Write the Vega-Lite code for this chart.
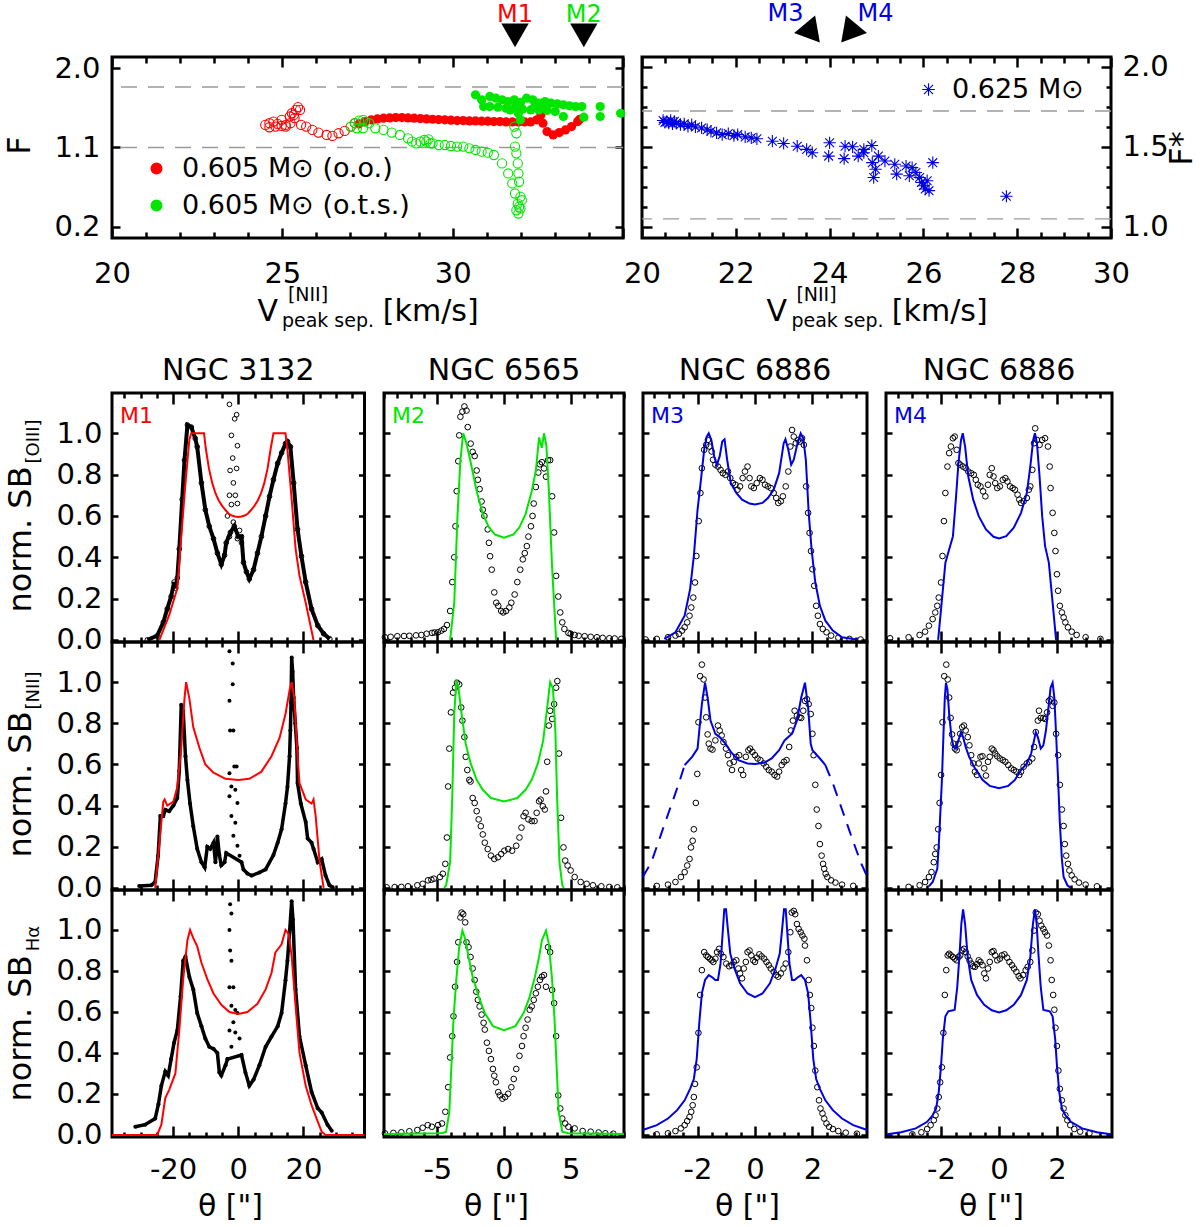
{
  "$schema": "https://vega.github.io/schema/vega-lite/v6.json",
  "autosize": {"type": "none"},
  "padding": {"left": 112, "top": 57, "right": 1088, "bottom": 1170},
  "background": "white",
  "config": {
    "font": "DejaVu Sans",
    "view": {"stroke": "black", "strokeWidth": 3},
    "axis": {"domain": false, "grid": false, "tickColor": "black", "tickWidth": 2.5, "labelColor": "black", "labelFontSize": 29, "labelOverlap": false, "labelFlush": false, "labelBound": false, "titleColor": "black", "titleFontWeight": "normal", "titleFontSize": 32, "tickSize": -6},
    "axisBottom": {"labelPadding": 29.5},
    "axisTop": {"labels": false},
    "axisLeft": {"labelPadding": 16},
    "axisRight": {"labels": false, "labelPadding": 21},
    "title": {"fontSize": 30, "fontWeight": "normal", "color": "black", "baseline": "alphabetic", "offset": 6},
    "legend": {"labelFontSize": 27, "labelColor": "black", "labelLimit": 0, "padding": 0}
  },
  "datasets": {
    "tlo": [
      {"x":24.5,"y":1.356,"s":"oo"},{"x":24.62,"y":1.375,"s":"oo"},{"x":24.74,"y":1.394,"s":"oo"},{"x":24.86,"y":1.367,"s":"oo"},{"x":24.98,"y":1.413,"s":"oo"},{"x":25.1,"y":1.356,"s":"oo"},{"x":25.22,"y":1.451,"s":"oo"},{"x":25.28,"y":1.488,"s":"oo"},{"x":25.34,"y":1.469,"s":"oo"},{"x":25.4,"y":1.526,"s":"oo"},{"x":25.46,"y":1.557,"s":"oo"},{"x":25.52,"y":1.526,"s":"oo"},{"x":25.1,"y":1.337,"s":"oo"},{"x":24.98,"y":1.344,"s":"oo"},{"x":24.8,"y":1.337,"s":"oo"},{"x":24.62,"y":1.329,"s":"oo"},{"x":25.24,"y":1.375,"s":"oo"},{"x":25.36,"y":1.432,"s":"oo"},{"x":25.55,"y":1.356,"s":"oo"},{"x":25.7,"y":1.337,"s":"oo"},{"x":25.88,"y":1.299,"s":"oo"},{"x":26.06,"y":1.269,"s":"oo"},{"x":26.3,"y":1.242,"s":"oo"},{"x":26.47,"y":1.231,"s":"oo"},{"x":26.65,"y":1.261,"s":"oo"},{"x":26.83,"y":1.288,"s":"oo"},{"x":27.01,"y":1.337,"s":"oo"},{"x":27.13,"y":1.375,"s":"oo"},
      {"x":27.01,"y":1.337,"s":"ots"},{"x":27.13,"y":1.375,"s":"ots"},{"x":27.19,"y":1.318,"s":"ots"},{"x":27.25,"y":1.405,"s":"ots"},{"x":27.37,"y":1.413,"s":"ots"},{"x":27.43,"y":1.394,"s":"ots"},{"x":27.55,"y":1.375,"s":"ots"},{"x":27.37,"y":1.318,"s":"ots"},{"x":27.73,"y":1.318,"s":"ots"},{"x":27.97,"y":1.299,"s":"ots"},{"x":28.21,"y":1.269,"s":"ots"},{"x":28.45,"y":1.242,"s":"ots"},{"x":28.69,"y":1.204,"s":"ots"},{"x":28.81,"y":1.166,"s":"ots"},{"x":28.93,"y":1.147,"s":"ots"},{"x":29.05,"y":1.166,"s":"ots"},{"x":29.17,"y":1.185,"s":"ots"},{"x":29.23,"y":1.166,"s":"ots"},{"x":29.29,"y":1.193,"s":"ots"},{"x":29.35,"y":1.147,"s":"ots"},{"x":29.41,"y":1.147,"s":"ots"},{"x":29.59,"y":1.128,"s":"ots"},{"x":29.77,"y":1.128,"s":"ots"},{"x":29.95,"y":1.117,"s":"ots"},{"x":30.13,"y":1.11,"s":"ots"},{"x":30.31,"y":1.11,"s":"ots"},{"x":30.49,"y":1.091,"s":"ots"},{"x":30.67,"y":1.072,"s":"ots"},{"x":30.85,"y":1.053,"s":"ots"},{"x":31.03,"y":1.041,"s":"ots"},{"x":31.21,"y":1.015,"s":"ots"},{"x":31.45,"y":0.92,"s":"ots"},{"x":31.63,"y":0.806,"s":"ots"},{"x":31.75,"y":0.693,"s":"ots"},{"x":31.83,"y":0.579,"s":"ots"},{"x":31.91,"y":0.465,"s":"ots"},{"x":31.93,"y":0.352,"s":"ots"},{"x":31.87,"y":1.261,"s":"ots"},{"x":31.81,"y":1.337,"s":"ots"},{"x":31.83,"y":1.11,"s":"ots"},{"x":31.87,"y":1.034,"s":"ots"},{"x":31.91,"y":0.92,"s":"ots"},{"x":31.93,"y":0.806,"s":"ots"},{"x":31.95,"y":0.712,"s":"ots"},{"x":31.99,"y":0.541,"s":"ots"},{"x":32.03,"y":0.503,"s":"ots"},{"x":31.95,"y":0.427,"s":"ots"},{"x":31.87,"y":0.389,"s":"ots"},{"x":31.99,"y":0.408,"s":"ots"}
    ],
    "tlf": [
      {"x":27.25,"y":1.367,"s":"oo"},{"x":27.43,"y":1.394,"s":"oo"},{"x":27.61,"y":1.413,"s":"oo"},{"x":27.79,"y":1.424,"s":"oo"},{"x":27.97,"y":1.432,"s":"oo"},{"x":28.15,"y":1.435,"s":"oo"},{"x":28.33,"y":1.439,"s":"oo"},{"x":28.51,"y":1.439,"s":"oo"},{"x":28.69,"y":1.435,"s":"oo"},{"x":28.87,"y":1.432,"s":"oo"},{"x":29.05,"y":1.428,"s":"oo"},{"x":29.23,"y":1.424,"s":"oo"},{"x":29.41,"y":1.42,"s":"oo"},{"x":29.59,"y":1.416,"s":"oo"},{"x":29.77,"y":1.413,"s":"oo"},{"x":29.95,"y":1.409,"s":"oo"},{"x":30.13,"y":1.405,"s":"oo"},{"x":30.31,"y":1.405,"s":"oo"},{"x":30.49,"y":1.401,"s":"oo"},{"x":30.67,"y":1.401,"s":"oo"},{"x":30.85,"y":1.398,"s":"oo"},{"x":31.03,"y":1.398,"s":"oo"},{"x":31.21,"y":1.394,"s":"oo"},{"x":31.39,"y":1.394,"s":"oo"},{"x":31.57,"y":1.39,"s":"oo"},{"x":31.75,"y":1.39,"s":"oo"},{"x":31.93,"y":1.39,"s":"oo"},{"x":32.11,"y":1.39,"s":"oo"},{"x":32.29,"y":1.39,"s":"oo"},{"x":32.47,"y":1.413,"s":"oo"},{"x":32.59,"y":1.469,"s":"oo"},{"x":32.65,"y":1.375,"s":"oo"},{"x":32.77,"y":1.28,"s":"oo"},{"x":32.95,"y":1.242,"s":"oo"},{"x":33.13,"y":1.269,"s":"oo"},{"x":33.31,"y":1.299,"s":"oo"},{"x":33.49,"y":1.337,"s":"oo"},{"x":33.67,"y":1.394,"s":"oo"},{"x":33.73,"y":1.42,"s":"oo"},
      {"x":30.67,"y":1.697,"s":"ots"},{"x":30.85,"y":1.64,"s":"ots"},{"x":30.91,"y":1.564,"s":"ots"},{"x":31.09,"y":1.678,"s":"ots"},{"x":31.27,"y":1.659,"s":"ots"},{"x":31.45,"y":1.64,"s":"ots"},{"x":31.63,"y":1.621,"s":"ots"},{"x":31.81,"y":1.64,"s":"ots"},{"x":31.99,"y":1.61,"s":"ots"},{"x":32.17,"y":1.659,"s":"ots"},{"x":32.35,"y":1.64,"s":"ots"},{"x":32.53,"y":1.602,"s":"ots"},{"x":32.71,"y":1.621,"s":"ots"},{"x":32.89,"y":1.602,"s":"ots"},{"x":33.07,"y":1.595,"s":"ots"},{"x":33.25,"y":1.583,"s":"ots"},{"x":33.43,"y":1.572,"s":"ots"},{"x":33.61,"y":1.564,"s":"ots"},{"x":33.79,"y":1.564,"s":"ots"},{"x":31.09,"y":1.564,"s":"ots"},{"x":31.33,"y":1.557,"s":"ots"},{"x":31.57,"y":1.545,"s":"ots"},{"x":31.81,"y":1.545,"s":"ots"},{"x":32.05,"y":1.534,"s":"ots"},{"x":32.29,"y":1.526,"s":"ots"},{"x":32.53,"y":1.526,"s":"ots"},{"x":32.77,"y":1.519,"s":"ots"},{"x":33.01,"y":1.507,"s":"ots"},{"x":31.69,"y":1.526,"s":"ots"},{"x":31.93,"y":1.488,"s":"ots"},{"x":31.99,"y":1.413,"s":"ots"},{"x":33.25,"y":1.451,"s":"ots"},{"x":33.85,"y":1.443,"s":"ots"},{"x":34.33,"y":1.564,"s":"ots"},{"x":34.33,"y":1.451,"s":"ots"},{"x":34.93,"y":1.488,"s":"ots"},{"x":32.41,"y":1.564,"s":"ots"},{"x":32.65,"y":1.564,"s":"ots"}
    ],
    "tr": [
      {"x":20.45,"y":1.666},{"x":20.49,"y":1.654},{"x":20.53,"y":1.66},{"x":20.57,"y":1.649},{"x":20.61,"y":1.666},{"x":20.65,"y":1.645},{"x":20.69,"y":1.66},{"x":20.73,"y":1.649},{"x":20.82,"y":1.639},{"x":20.9,"y":1.645},{"x":20.98,"y":1.629},{"x":21.06,"y":1.639},{"x":21.14,"y":1.625},{"x":21.27,"y":1.619},{"x":21.39,"y":1.608},{"x":21.47,"y":1.598},{"x":21.59,"y":1.588},{"x":21.71,"y":1.577},{"x":21.84,"y":1.584},{"x":21.96,"y":1.571},{"x":22.04,"y":1.577},{"x":22.2,"y":1.563},{"x":22.33,"y":1.557},{"x":22.45,"y":1.551},{"x":22.78,"y":1.536},{"x":23.02,"y":1.522},{"x":23.31,"y":1.505},{"x":23.51,"y":1.485},{"x":23.63,"y":1.464},{"x":24,"y":1.526},{"x":23.98,"y":1.443},{"x":24.33,"y":1.505},{"x":24.31,"y":1.427},{"x":24.49,"y":1.501},{"x":24.61,"y":1.443},{"x":24.73,"y":1.485},{"x":24.9,"y":1.509},{"x":24.91,"y":1.402},{"x":24.94,"y":1.309},{"x":25.04,"y":1.443},{"x":25.18,"y":1.412},{"x":25.39,"y":1.392},{"x":25.43,"y":1.33},{"x":25.63,"y":1.381},{"x":25.7,"y":1.32},{"x":25.76,"y":1.371},{"x":25.84,"y":1.34},{"x":25.92,"y":1.309},{"x":25.96,"y":1.278},{"x":26,"y":1.258},{"x":26.04,"y":1.237},{"x":26.08,"y":1.289},{"x":26.12,"y":1.227},{"x":26.2,"y":1.402},{"x":27.77,"y":1.192},{"x":24.98,"y":1.361},{"x":24.73,"y":1.464}
    ],
    "o11": [
      {"x":-27.9,"y":0},{"x":-24.9,"y":0.02},{"x":-23,"y":0.085},{"x":-21.8,"y":0.15},{"x":-20.6,"y":0.21},{"x":-19.7,"y":0.28},{"x":-19.2,"y":0.25},{"x":-18.7,"y":0.3},{"x":-18.1,"y":0.44},{"x":-17.2,"y":0.68},{"x":-16.5,"y":0.87},{"x":-15.6,"y":1.04},{"x":-14.4,"y":1.03},{"x":-13.2,"y":0.975},{"x":-12.6,"y":0.935},{"x":-11.3,"y":0.76},{"x":-10.1,"y":0.63},{"x":-8.9,"y":0.55},{"x":-7.6,"y":0.49},{"x":-6.4,"y":0.42},{"x":-5.2,"y":0.366},{"x":-4.2,"y":0.41},{"x":-3.7,"y":0.47},{"x":-2.4,"y":0.52},{"x":-1.2,"y":0.55},{"x":0,"y":0.5},{"x":1,"y":0.5},{"x":1.6,"y":0.375},{"x":2.5,"y":0.33},{"x":3.4,"y":0.295},{"x":4.7,"y":0.34},{"x":5.9,"y":0.42},{"x":7.1,"y":0.5},{"x":8.4,"y":0.6},{"x":9.6,"y":0.695},{"x":10.8,"y":0.775},{"x":12.1,"y":0.855},{"x":13.3,"y":0.905},{"x":14.5,"y":0.95},{"x":15.1,"y":0.96},{"x":16,"y":0.935},{"x":17,"y":0.76},{"x":18.2,"y":0.535},{"x":19.4,"y":0.405},{"x":20.7,"y":0.28},{"x":22.5,"y":0.15},{"x":24.4,"y":0.07},{"x":26.2,"y":0.03},{"x":28.1,"y":0.005}
    ],
    "s11": [
      {"x":-2.7,"y":1.14},{"x":-1.1,"y":1.07},{"x":-0.5,"y":1.09},{"x":-2.1,"y":0.99},{"x":-0.25,"y":0.94},{"x":-1.7,"y":0.88},{"x":-0.5,"y":0.83},{"x":-2.5,"y":0.82},{"x":-1.5,"y":0.76},{"x":-2.7,"y":0.7},{"x":-0.9,"y":0.7},{"x":-2.1,"y":0.655},{"x":-0.25,"y":0.66},{"x":-3.3,"y":0.6},{"x":-1.5,"y":0.57},{"x":0.4,"y":0.53},{"x":-2.7,"y":0.5},{"x":-0.25,"y":0.49},{"x":1,"y":0.47}
    ],
    "m11": [
      {"x":-24.2,"y":0},{"x":-21.2,"y":0.12},{"x":-18.7,"y":0.25},{"x":-17.5,"y":0.5},{"x":-16.2,"y":0.76},{"x":-15,"y":0.97},{"x":-14.4,"y":1},{"x":-10.5,"y":1},{"x":-10,"y":0.93},{"x":-9,"y":0.83},{"x":-8,"y":0.76},{"x":-7,"y":0.71},{"x":-6,"y":0.675},{"x":-5,"y":0.65},{"x":-4,"y":0.63},{"x":-3,"y":0.612},{"x":-2,"y":0.602},{"x":-1,"y":0.597},{"x":0,"y":0.595},{"x":1,"y":0.597},{"x":2,"y":0.602},{"x":3,"y":0.612},{"x":4,"y":0.63},{"x":5,"y":0.65},{"x":6,"y":0.675},{"x":7,"y":0.71},{"x":8,"y":0.76},{"x":9,"y":0.83},{"x":10,"y":0.93},{"x":10.8,"y":1},{"x":14.5,"y":1},{"x":15.1,"y":0.92},{"x":16.4,"y":0.68},{"x":17.6,"y":0.44},{"x":18.8,"y":0.31},{"x":20.7,"y":0.18},{"x":23.1,"y":0}
    ],
    "o21": [
      {"x":-30.4,"y":0.01},{"x":-26.7,"y":0.013},{"x":-25.5,"y":0.03},{"x":-24.6,"y":0.157},{"x":-23.9,"y":0.35},{"x":-23,"y":0.35},{"x":-22.4,"y":0.38},{"x":-21.2,"y":0.373},{"x":-19.9,"y":0.4},{"x":-18.7,"y":0.437},{"x":-18.1,"y":0.57},{"x":-17.5,"y":0.89},{"x":-16.9,"y":0.86},{"x":-16.2,"y":0.64},{"x":-15.6,"y":0.525},{"x":-14.8,"y":0.41},{"x":-13.8,"y":0.3},{"x":-12.6,"y":0.19},{"x":-11.3,"y":0.125},{"x":-10.3,"y":0.1},{"x":-9.5,"y":0.2},{"x":-8.6,"y":0.19},{"x":-7.6,"y":0.22},{"x":-7,"y":0.125},{"x":-6.4,"y":0.25},{"x":-5.8,"y":0.16},{"x":-5.2,"y":0.11},{"x":-4.2,"y":0.125},{"x":-3.7,"y":0.17},{"x":1,"y":0.125},{"x":1.6,"y":0.09},{"x":2.8,"y":0.07},{"x":4.1,"y":0.06},{"x":6.5,"y":0.075},{"x":8.4,"y":0.09},{"x":10.8,"y":0.16},{"x":12.1,"y":0.22},{"x":13.3,"y":0.285},{"x":14.5,"y":0.41},{"x":15.1,"y":0.49},{"x":15.75,"y":0.64},{"x":16,"y":0.765},{"x":16.2,"y":0.9},{"x":16.4,"y":1.12},{"x":16.7,"y":1.05},{"x":17,"y":0.925},{"x":17.5,"y":0.8},{"x":18,"y":0.68},{"x":18.2,"y":0.51},{"x":19.2,"y":0.41},{"x":20.7,"y":0.32},{"x":21.3,"y":0.24},{"x":22.5,"y":0.22},{"x":23.1,"y":0.19},{"x":24.4,"y":0.125},{"x":25.6,"y":0.14},{"x":26.8,"y":0.06},{"x":28,"y":0.013},{"x":29,"y":0.003}
    ],
    "s21": [
      {"x":-2.7,"y":1.15},{"x":-1.7,"y":1.09},{"x":-1.7,"y":0.99},{"x":-2.7,"y":0.91},{"x":-2.5,"y":0.765},{"x":-1.5,"y":0.765},{"x":-2.7,"y":0.557},{"x":-1.2,"y":0.59},{"x":-0.5,"y":0.59},{"x":-2.1,"y":0.493},{"x":-0.9,"y":0.477},{"x":-2.7,"y":0.445},{"x":-0.25,"y":0.413},{"x":-2.1,"y":0.35},{"x":-0.9,"y":0.317},{"x":-1.5,"y":0.253},{"x":-0.25,"y":0.205},{"x":0.4,"y":0.157}
    ],
    "m21": [
      {"x":-25.5,"y":0},{"x":-23,"y":0.42},{"x":-22.6,"y":0.43},{"x":-21.8,"y":0.4},{"x":-19.9,"y":0.42},{"x":-18.7,"y":0.49},{"x":-17.5,"y":0.68},{"x":-16.5,"y":0.92},{"x":-16,"y":1},{"x":-15,"y":0.92},{"x":-13.8,"y":0.78},{"x":-11.9,"y":0.68},{"x":-10.1,"y":0.6},{"x":-7.6,"y":0.56},{"x":-3.9,"y":0.53},{"x":0,"y":0.525},{"x":3.4,"y":0.53},{"x":7.1,"y":0.565},{"x":10.2,"y":0.64},{"x":12.7,"y":0.73},{"x":14.5,"y":0.845},{"x":15.8,"y":0.965},{"x":16.4,"y":1},{"x":17.2,"y":0.925},{"x":18.2,"y":0.64},{"x":18.8,"y":0.51},{"x":20.7,"y":0.43},{"x":22.5,"y":0.41},{"x":23.1,"y":0.43},{"x":23.75,"y":0.35},{"x":25,"y":0.125},{"x":26.2,"y":0}
    ],
    "o31": [
      {"x":-31.6,"y":0.04},{"x":-28.6,"y":0.05},{"x":-25.5,"y":0.08},{"x":-24.5,"y":0.15},{"x":-23.6,"y":0.24},{"x":-22.4,"y":0.31},{"x":-21.5,"y":0.29},{"x":-20.6,"y":0.37},{"x":-19.7,"y":0.45},{"x":-18.7,"y":0.51},{"x":-17.7,"y":0.675},{"x":-16.9,"y":0.85},{"x":-16.2,"y":0.87},{"x":-15,"y":0.77},{"x":-13.8,"y":0.71},{"x":-12.6,"y":0.595},{"x":-11.3,"y":0.53},{"x":-10.1,"y":0.47},{"x":-8.9,"y":0.43},{"x":-7.6,"y":0.42},{"x":-6.4,"y":0.4},{"x":-5.8,"y":0.305},{"x":-5.2,"y":0.29},{"x":-3.9,"y":0.34},{"x":-3.3,"y":0.37},{"x":1,"y":0.39},{"x":2.2,"y":0.305},{"x":3.4,"y":0.24},{"x":4.7,"y":0.27},{"x":6.5,"y":0.34},{"x":8.4,"y":0.43},{"x":10.2,"y":0.48},{"x":12.1,"y":0.53},{"x":13.3,"y":0.595},{"x":14.5,"y":0.755},{"x":15.1,"y":0.85},{"x":15.8,"y":1},{"x":16.4,"y":1.14},{"x":16.8,"y":1.05},{"x":17.6,"y":0.71},{"x":18.8,"y":0.48},{"x":20.7,"y":0.34},{"x":22.5,"y":0.21},{"x":24.4,"y":0.13},{"x":25.6,"y":0.11},{"x":27.4,"y":0.05},{"x":28.7,"y":0.02}
    ],
    "s31": [
      {"x":-2.5,"y":1.125},{"x":-2.1,"y":1.08},{"x":-2.7,"y":1},{"x":-2.5,"y":0.9},{"x":-2.1,"y":0.85},{"x":-2.7,"y":0.72},{"x":-1.5,"y":0.72},{"x":-2.1,"y":0.63},{"x":-0.9,"y":0.61},{"x":-0.25,"y":0.595},{"x":-1.5,"y":0.55},{"x":-2.7,"y":0.51},{"x":-0.9,"y":0.5},{"x":0.4,"y":0.47},{"x":-2.1,"y":0.43},{"x":-3.3,"y":0.37}
    ],
    "m31": [
      {"x":-38.75,"y":0},{"x":-24.9,"y":0},{"x":-23.6,"y":0.05},{"x":-22.4,"y":0.18},{"x":-21.2,"y":0.22},{"x":-19.3,"y":0.3},{"x":-18.1,"y":0.51},{"x":-16.9,"y":0.76},{"x":-15.6,"y":0.95},{"x":-14.8,"y":1},{"x":-13.8,"y":0.96},{"x":-12.6,"y":0.92},{"x":-11.3,"y":0.84},{"x":-9.5,"y":0.76},{"x":-7.6,"y":0.69},{"x":-5.2,"y":0.635},{"x":-2.7,"y":0.6},{"x":0,"y":0.59},{"x":2.8,"y":0.6},{"x":5.9,"y":0.64},{"x":8.4,"y":0.71},{"x":10.2,"y":0.79},{"x":11.4,"y":0.89},{"x":13.3,"y":0.93},{"x":14.5,"y":1},{"x":15.5,"y":0.98},{"x":16.4,"y":0.87},{"x":17.6,"y":0.63},{"x":18.8,"y":0.4},{"x":20.7,"y":0.24},{"x":22.5,"y":0.145},{"x":24.4,"y":0.065},{"x":25.6,"y":0.016},{"x":26.8,"y":0},{"x":38.75,"y":0}
    ],
    "o12": [
      {"x":-8.93,"y":0.013},{"x":-8.5,"y":0.015},{"x":-8,"y":0.018},{"x":-7.5,"y":0.019},{"x":-7.1,"y":0.02},{"x":-6.6,"y":0.022},{"x":-6.2,"y":0.024},{"x":-5.8,"y":0.03},{"x":-5.4,"y":0.034},{"x":-5.2,"y":0.036},{"x":-4.95,"y":0.037},{"x":-4.7,"y":0.045},{"x":-4.5,"y":0.053},{"x":-4.28,"y":0.072},{"x":-4.04,"y":0.14},{"x":-3.88,"y":0.28},{"x":-3.73,"y":0.4},{"x":-3.64,"y":0.55},{"x":-3.55,"y":0.72},{"x":-3.43,"y":0.865},{"x":-3.36,"y":0.99},{"x":-3.27,"y":1.08},{"x":-3.12,"y":1.105},{"x":-2.97,"y":1.13},{"x":-2.81,"y":1.11},{"x":-2.72,"y":1.03},{"x":-2.5,"y":0.95},{"x":-2.35,"y":0.91},{"x":-2.2,"y":0.89},{"x":-2.05,"y":0.82},{"x":-1.96,"y":0.775},{"x":-1.83,"y":0.73},{"x":-1.68,"y":0.67},{"x":-1.59,"y":0.63},{"x":-1.47,"y":0.6},{"x":-1.22,"y":0.535},{"x":-1.13,"y":0.47},{"x":-1.04,"y":0.405},{"x":-0.92,"y":0.34},{"x":-0.73,"y":0.23},{"x":-0.58,"y":0.18},{"x":-0.43,"y":0.165},{"x":-0.21,"y":0.14},{"x":-0.06,"y":0.133},{"x":0.15,"y":0.14},{"x":0.4,"y":0.157},{"x":0.55,"y":0.18},{"x":0.8,"y":0.22},{"x":1,"y":0.28},{"x":1.22,"y":0.34},{"x":1.41,"y":0.39},{"x":1.56,"y":0.42},{"x":1.71,"y":0.454},{"x":1.83,"y":0.5},{"x":2.02,"y":0.55},{"x":2.14,"y":0.6},{"x":2.23,"y":0.66},{"x":2.39,"y":0.74},{"x":2.57,"y":0.81},{"x":2.69,"y":0.85},{"x":2.84,"y":0.86},{"x":3,"y":0.83},{"x":3.15,"y":0.79},{"x":3.3,"y":0.87},{"x":3.46,"y":0.87},{"x":3.61,"y":0.695},{"x":3.76,"y":0.52},{"x":3.91,"y":0.31},{"x":4.07,"y":0.21},{"x":4.22,"y":0.133},{"x":4.37,"y":0.085},{"x":4.53,"y":0.053},{"x":4.83,"y":0.034},{"x":5,"y":0.03},{"x":5.3,"y":0.024},{"x":5.6,"y":0.02},{"x":6.05,"y":0.018},{"x":6.5,"y":0.015},{"x":6.97,"y":0.013},{"x":7.4,"y":0.01},{"x":7.9,"y":0.008},{"x":8.3,"y":0.007},{"x":8.8,"y":0.005}
    ],
    "m12": [
      {"x":-4.04,"y":0},{"x":-3.73,"y":0.18},{"x":-3.49,"y":0.6},{"x":-3.27,"y":0.87},{"x":-3.06,"y":1},{"x":-2.81,"y":0.95},{"x":-2.5,"y":0.86},{"x":-2.05,"y":0.72},{"x":-1.59,"y":0.61},{"x":-1.13,"y":0.545},{"x":-0.67,"y":0.51},{"x":0,"y":0.495},{"x":0.7,"y":0.51},{"x":1.16,"y":0.545},{"x":1.62,"y":0.61},{"x":2.08,"y":0.72},{"x":2.39,"y":0.82},{"x":2.63,"y":0.98},{"x":2.75,"y":0.95},{"x":2.84,"y":0.93},{"x":3,"y":1},{"x":3.18,"y":0.94},{"x":3.36,"y":0.73},{"x":3.6,"y":0.36},{"x":3.91,"y":0}
    ],
    "o22": [
      {"x":-8.8,"y":0.003},{"x":-8.2,"y":0.004},{"x":-7.7,"y":0.005},{"x":-7.2,"y":0.008},{"x":-6.5,"y":0.013},{"x":-6.1,"y":0.02},{"x":-5.7,"y":0.037},{"x":-5.45,"y":0.04},{"x":-5.26,"y":0.045},{"x":-4.8,"y":0.053},{"x":-4.59,"y":0.069},{"x":-4.4,"y":0.117},{"x":-4.28,"y":0.245},{"x":-4.19,"y":0.493},{"x":-4.1,"y":0.677},{"x":-3.98,"y":0.853},{"x":-3.82,"y":0.949},{"x":-3.67,"y":0.973},{"x":-3.52,"y":0.997},{"x":-3.36,"y":0.989},{"x":-3.21,"y":0.877},{"x":-3.12,"y":0.813},{"x":-2.97,"y":0.733},{"x":-2.87,"y":0.637},{"x":-2.75,"y":0.573},{"x":-2.6,"y":0.525},{"x":-2.51,"y":0.517},{"x":-2.35,"y":0.437},{"x":-2.2,"y":0.413},{"x":-2.05,"y":0.373},{"x":-1.9,"y":0.333},{"x":-1.74,"y":0.3},{"x":-1.59,"y":0.26},{"x":-1.44,"y":0.22},{"x":-1.22,"y":0.189},{"x":-0.98,"y":0.157},{"x":-0.73,"y":0.141},{"x":-0.46,"y":0.149},{"x":-0.21,"y":0.165},{"x":0.03,"y":0.181},{"x":0.31,"y":0.189},{"x":0.61,"y":0.181},{"x":0.92,"y":0.205},{"x":1.16,"y":0.245},{"x":1.31,"y":0.293},{"x":1.47,"y":0.349},{"x":1.62,"y":0.365},{"x":1.83,"y":0.333},{"x":2.08,"y":0.325},{"x":2.29,"y":0.325},{"x":2.45,"y":0.365},{"x":2.63,"y":0.421},{"x":2.75,"y":0.429},{"x":2.91,"y":0.397},{"x":3.06,"y":0.381},{"x":3.15,"y":0.469},{"x":3.24,"y":0.613},{"x":3.36,"y":0.789},{"x":3.46,"y":0.861},{"x":3.61,"y":0.821},{"x":3.76,"y":0.893},{"x":3.91,"y":0.973},{"x":4,"y":1.005},{"x":4.13,"y":0.653},{"x":4.28,"y":0.341},{"x":4.46,"y":0.197},{"x":4.59,"y":0.133},{"x":4.77,"y":0.109},{"x":5,"y":0.085},{"x":5.3,"y":0.053},{"x":5.75,"y":0.029},{"x":6.2,"y":0.02},{"x":6.67,"y":0.013},{"x":7.3,"y":0.008},{"x":7.9,"y":0.005},{"x":8.5,"y":0.003}
    ],
    "m22": [
      {"x":-4.5,"y":0},{"x":-4.34,"y":0.013},{"x":-4.04,"y":0.125},{"x":-3.88,"y":0.445},{"x":-3.73,"y":0.845},{"x":-3.58,"y":1},{"x":-3.43,"y":0.98},{"x":-3.18,"y":0.845},{"x":-2.87,"y":0.7},{"x":-2.5,"y":0.605},{"x":-2.05,"y":0.525},{"x":-1.59,"y":0.477},{"x":-0.98,"y":0.437},{"x":0,"y":0.42},{"x":1,"y":0.437},{"x":1.62,"y":0.477},{"x":2.08,"y":0.525},{"x":2.54,"y":0.605},{"x":2.94,"y":0.717},{"x":3.24,"y":0.877},{"x":3.46,"y":1},{"x":3.67,"y":0.97},{"x":3.85,"y":0.765},{"x":3.98,"y":0.445},{"x":4.16,"y":0.125},{"x":4.37,"y":0.013},{"x":4.5,"y":0}
    ],
    "o32": [
      {"x":-8.93,"y":0.008},{"x":-8.3,"y":0.01},{"x":-7.7,"y":0.013},{"x":-7.1,"y":0.018},{"x":-6.5,"y":0.024},{"x":-6.1,"y":0.035},{"x":-5.72,"y":0.048},{"x":-5.41,"y":0.04},{"x":-4.95,"y":0.048},{"x":-4.65,"y":0.056},{"x":-4.4,"y":0.113},{"x":-4.19,"y":0.233},{"x":-4.04,"y":0.378},{"x":-3.88,"y":0.482},{"x":-3.79,"y":0.579},{"x":-3.67,"y":0.723},{"x":-3.52,"y":0.844},{"x":-3.43,"y":0.94},{"x":-3.27,"y":1.061},{"x":-3.18,"y":1.085},{"x":-3.06,"y":1.077},{"x":-2.91,"y":1.037},{"x":-2.81,"y":0.94},{"x":-2.66,"y":0.916},{"x":-2.51,"y":0.868},{"x":-2.35,"y":0.812},{"x":-2.2,"y":0.756},{"x":-2.08,"y":0.699},{"x":-1.96,"y":0.659},{"x":-1.83,"y":0.627},{"x":-1.68,"y":0.587},{"x":-1.53,"y":0.547},{"x":-1.44,"y":0.514},{"x":-1.28,"y":0.45},{"x":-1.13,"y":0.41},{"x":-0.98,"y":0.37},{"x":-0.83,"y":0.322},{"x":-0.73,"y":0.289},{"x":-0.61,"y":0.257},{"x":-0.43,"y":0.209},{"x":-0.31,"y":0.193},{"x":-0.12,"y":0.177},{"x":0.09,"y":0.185},{"x":0.31,"y":0.201},{"x":0.55,"y":0.233},{"x":0.73,"y":0.273},{"x":0.92,"y":0.322},{"x":1.16,"y":0.386},{"x":1.35,"y":0.434},{"x":1.47,"y":0.482},{"x":1.62,"y":0.523},{"x":1.77,"y":0.563},{"x":1.93,"y":0.611},{"x":2.08,"y":0.627},{"x":2.23,"y":0.659},{"x":2.39,"y":0.691},{"x":2.54,"y":0.723},{"x":2.69,"y":0.756},{"x":2.84,"y":0.772},{"x":3,"y":0.78},{"x":3.15,"y":0.723},{"x":3.3,"y":0.916},{"x":3.46,"y":0.892},{"x":3.61,"y":0.707},{"x":3.76,"y":0.643},{"x":3.91,"y":0.482},{"x":4.07,"y":0.193},{"x":4.22,"y":0.129},{"x":4.37,"y":0.08},{"x":4.59,"y":0.056},{"x":4.83,"y":0.04},{"x":5.3,"y":0.032},{"x":5.9,"y":0.019},{"x":6.5,"y":0.016},{"x":7.1,"y":0.012},{"x":7.6,"y":0.008},{"x":8.2,"y":0.006}
    ],
    "m32": [
      {"x":-9,"y":0.005},{"x":-5,"y":0.008},{"x":-4.6,"y":0.01},{"x":-4.34,"y":0.016},{"x":-4.1,"y":0.113},{"x":-3.91,"y":0.386},{"x":-3.79,"y":0.563},{"x":-3.58,"y":0.756},{"x":-3.36,"y":0.916},{"x":-3.12,"y":0.997},{"x":-2.87,"y":0.949},{"x":-2.66,"y":0.868},{"x":-2.35,"y":0.772},{"x":-1.9,"y":0.675},{"x":-1.44,"y":0.595},{"x":-0.83,"y":0.531},{"x":0,"y":0.511},{"x":0.86,"y":0.531},{"x":1.47,"y":0.595},{"x":1.93,"y":0.675},{"x":2.32,"y":0.772},{"x":2.63,"y":0.868},{"x":2.84,"y":0.949},{"x":3.15,"y":0.997},{"x":3.36,"y":0.932},{"x":3.61,"y":0.756},{"x":3.79,"y":0.563},{"x":3.91,"y":0.386},{"x":4.1,"y":0.113},{"x":4.37,"y":0.016},{"x":4.83,"y":0.008},{"x":9,"y":0.005}
    ],
    "o13": [
      {"x":-3.81,"y":0.002},{"x":-3.42,"y":0.005},{"x":-3.03,"y":0.013},{"x":-2.77,"y":0.021},{"x":-2.65,"y":0.029},{"x":-2.54,"y":0.045},{"x":-2.45,"y":0.061},{"x":-2.36,"y":0.085},{"x":-2.28,"y":0.117},{"x":-2.22,"y":0.157},{"x":-2.15,"y":0.205},{"x":-2.09,"y":0.278},{"x":-2.04,"y":0.406},{"x":-1.96,"y":0.575},{"x":-1.9,"y":0.711},{"x":-1.85,"y":0.831},{"x":-1.77,"y":0.92},{"x":-1.7,"y":0.944},{"x":-1.64,"y":0.968},{"x":-1.59,"y":0.936},{"x":-1.51,"y":0.912},{"x":-1.46,"y":0.872},{"x":-1.38,"y":0.848},{"x":-1.29,"y":0.839},{"x":-1.2,"y":0.823},{"x":-1.12,"y":0.807},{"x":-1.03,"y":0.799},{"x":-0.94,"y":0.815},{"x":-0.86,"y":0.783},{"x":-0.77,"y":0.759},{"x":-0.68,"y":0.751},{"x":-0.61,"y":0.727},{"x":-0.52,"y":0.743},{"x":-0.43,"y":0.783},{"x":-0.35,"y":0.815},{"x":-0.26,"y":0.839},{"x":-0.19,"y":0.783},{"x":-0.13,"y":0.743},{"x":-0.04,"y":0.735},{"x":0.06,"y":0.759},{"x":0.17,"y":0.783},{"x":0.26,"y":0.775},{"x":0.35,"y":0.751},{"x":0.45,"y":0.743},{"x":0.55,"y":0.735},{"x":0.65,"y":0.711},{"x":0.74,"y":0.687},{"x":0.81,"y":0.663},{"x":0.9,"y":0.671},{"x":0.97,"y":0.695},{"x":1.07,"y":0.743},{"x":1.16,"y":0.815},{"x":1.23,"y":0.936},{"x":1.29,"y":1.016},{"x":1.35,"y":0.984},{"x":1.42,"y":0.952},{"x":1.51,"y":0.968},{"x":1.57,"y":0.96},{"x":1.64,"y":0.976},{"x":1.7,"y":0.944},{"x":1.78,"y":0.743},{"x":1.85,"y":0.615},{"x":1.9,"y":0.518},{"x":1.95,"y":0.43},{"x":2,"y":0.342},{"x":2.06,"y":0.262},{"x":2.13,"y":0.165},{"x":2.19,"y":0.117},{"x":2.26,"y":0.077},{"x":2.36,"y":0.053},{"x":2.49,"y":0.037},{"x":2.65,"y":0.021},{"x":2.9,"y":0.011},{"x":3.29,"y":0.005},{"x":3.68,"y":0.002}
    ],
    "m13": [
      {"x":-3.16,"y":0.005},{"x":-2.77,"y":0.037},{"x":-2.45,"y":0.117},{"x":-2.26,"y":0.246},{"x":-2.13,"y":0.406},{"x":-2,"y":0.631},{"x":-1.87,"y":0.79},{"x":-1.77,"y":0.92},{"x":-1.68,"y":0.984},{"x":-1.61,"y":1},{"x":-1.52,"y":0.968},{"x":-1.42,"y":0.888},{"x":-1.33,"y":0.848},{"x":-1.23,"y":0.888},{"x":-1.14,"y":0.96},{"x":-1.06,"y":0.971},{"x":-0.97,"y":0.872},{"x":-0.84,"y":0.759},{"x":-0.65,"y":0.711},{"x":-0.45,"y":0.679},{"x":-0.19,"y":0.66},{"x":0,"y":0.655},{"x":0.26,"y":0.663},{"x":0.45,"y":0.687},{"x":0.65,"y":0.727},{"x":0.84,"y":0.807},{"x":1,"y":0.952},{"x":1.06,"y":0.971},{"x":1.16,"y":0.92},{"x":1.26,"y":0.848},{"x":1.35,"y":0.872},{"x":1.48,"y":0.952},{"x":1.59,"y":1},{"x":1.68,"y":0.976},{"x":1.77,"y":0.872},{"x":1.87,"y":0.615},{"x":1.97,"y":0.438},{"x":2.1,"y":0.278},{"x":2.26,"y":0.165},{"x":2.45,"y":0.093},{"x":2.71,"y":0.045},{"x":3.03,"y":0.013},{"x":3.55,"y":0.002}
    ],
    "o23": [
      {"x":-3.42,"y":0.01},{"x":-3.03,"y":0.016},{"x":-2.77,"y":0.029},{"x":-2.58,"y":0.053},{"x":-2.45,"y":0.077},{"x":-2.36,"y":0.109},{"x":-2.28,"y":0.141},{"x":-2.23,"y":0.197},{"x":-2.17,"y":0.229},{"x":-2.13,"y":0.285},{"x":-2.06,"y":0.413},{"x":-2.01,"y":0.554},{"x":-1.97,"y":0.805},{"x":-1.91,"y":1.029},{"x":-1.85,"y":1.085},{"x":-1.79,"y":1.013},{"x":-1.74,"y":0.925},{"x":-1.7,"y":0.829},{"x":-1.65,"y":0.746},{"x":-1.61,"y":0.701},{"x":-1.55,"y":0.677},{"x":-1.48,"y":0.672},{"x":-1.38,"y":0.717},{"x":-1.29,"y":0.789},{"x":-1.23,"y":0.765},{"x":-1.16,"y":0.741},{"x":-1.1,"y":0.709},{"x":-1.01,"y":0.677},{"x":-0.94,"y":0.645},{"x":-0.88,"y":0.605},{"x":-0.8,"y":0.573},{"x":-0.74,"y":0.613},{"x":-0.65,"y":0.637},{"x":-0.55,"y":0.645},{"x":-0.48,"y":0.573},{"x":-0.41,"y":0.549},{"x":-0.32,"y":0.637},{"x":-0.23,"y":0.669},{"x":-0.17,"y":0.677},{"x":-0.09,"y":0.661},{"x":0,"y":0.645},{"x":0.09,"y":0.629},{"x":0.19,"y":0.621},{"x":0.3,"y":0.605},{"x":0.39,"y":0.589},{"x":0.48,"y":0.573},{"x":0.58,"y":0.565},{"x":0.68,"y":0.549},{"x":0.77,"y":0.541},{"x":0.84,"y":0.565},{"x":0.93,"y":0.597},{"x":1.01,"y":0.613},{"x":1.1,"y":0.621},{"x":1.19,"y":0.685},{"x":1.25,"y":0.765},{"x":1.32,"y":0.813},{"x":1.38,"y":0.861},{"x":1.46,"y":0.837},{"x":1.55,"y":0.829},{"x":1.61,"y":0.826},{"x":1.68,"y":0.861},{"x":1.74,"y":0.909},{"x":1.81,"y":0.917},{"x":1.87,"y":0.893},{"x":1.94,"y":0.845},{"x":2,"y":0.749},{"x":2.04,"y":0.645},{"x":2.1,"y":0.501},{"x":2.15,"y":0.381},{"x":2.21,"y":0.301},{"x":2.26,"y":0.213},{"x":2.32,"y":0.157},{"x":2.37,"y":0.117},{"x":2.41,"y":0.093},{"x":2.46,"y":0.069},{"x":2.52,"y":0.053},{"x":2.65,"y":0.037},{"x":2.8,"y":0.026},{"x":3.03,"y":0.016},{"x":3.42,"y":0.01}
    ],
    "m23": [
      {"x":-2.45,"y":0.597},{"x":-2.19,"y":0.637},{"x":-2,"y":0.677},{"x":-1.94,"y":0.765},{"x":-1.85,"y":0.893},{"x":-1.74,"y":0.997},{"x":-1.65,"y":0.925},{"x":-1.55,"y":0.813},{"x":-1.38,"y":0.749},{"x":-1.23,"y":0.733},{"x":-1.03,"y":0.701},{"x":-0.84,"y":0.661},{"x":-0.58,"y":0.621},{"x":-0.26,"y":0.605},{"x":0,"y":0.602},{"x":0.32,"y":0.608},{"x":0.58,"y":0.629},{"x":0.84,"y":0.669},{"x":1.03,"y":0.717},{"x":1.16,"y":0.733},{"x":1.29,"y":0.749},{"x":1.46,"y":0.813},{"x":1.61,"y":0.925},{"x":1.74,"y":0.997},{"x":1.85,"y":0.877},{"x":1.94,"y":0.701},{"x":2,"y":0.669},{"x":2.26,"y":0.629},{"x":2.45,"y":0.597}
    ],
    "d23": [
      {"x":-3.91,"y":0.053,"g":"a"},{"x":-3.61,"y":0.125,"g":"a"},{"x":-3.29,"y":0.253,"g":"a"},{"x":-2.97,"y":0.381,"g":"a"},{"x":-2.65,"y":0.509,"g":"a"},{"x":-2.45,"y":0.597,"g":"a"},
      {"x":2.45,"y":0.597,"g":"b"},{"x":2.71,"y":0.509,"g":"b"},{"x":3.03,"y":0.381,"g":"b"},{"x":3.35,"y":0.253,"g":"b"},{"x":3.68,"y":0.125,"g":"b"},{"x":3.91,"y":0.053,"g":"b"}
    ],
    "o33": [
      {"x":-3.42,"y":0.003},{"x":-3.03,"y":0.008},{"x":-2.77,"y":0.019},{"x":-2.58,"y":0.032},{"x":-2.45,"y":0.048},{"x":-2.36,"y":0.068},{"x":-2.28,"y":0.088},{"x":-2.22,"y":0.113},{"x":-2.17,"y":0.145},{"x":-2.13,"y":0.185},{"x":-2.09,"y":0.249},{"x":-2.03,"y":0.33},{"x":-1.97,"y":0.498},{"x":-1.91,"y":0.683},{"x":-1.85,"y":0.804},{"x":-1.77,"y":0.892},{"x":-1.7,"y":0.876},{"x":-1.64,"y":0.868},{"x":-1.57,"y":0.86},{"x":-1.51,"y":0.852},{"x":-1.45,"y":0.844},{"x":-1.38,"y":0.86},{"x":-1.32,"y":0.892},{"x":-1.25,"y":0.908},{"x":-1.19,"y":0.884},{"x":-1.1,"y":0.868},{"x":-1,"y":0.836},{"x":-0.9,"y":0.823},{"x":-0.81,"y":0.828},{"x":-0.74,"y":0.844},{"x":-0.65,"y":0.852},{"x":-0.58,"y":0.812},{"x":-0.52,"y":0.788},{"x":-0.45,"y":0.764},{"x":-0.39,"y":0.812},{"x":-0.32,"y":0.844},{"x":-0.26,"y":0.892},{"x":-0.19,"y":0.9},{"x":-0.13,"y":0.876},{"x":-0.06,"y":0.852},{"x":0,"y":0.844},{"x":0.06,"y":0.865},{"x":0.15,"y":0.881},{"x":0.23,"y":0.871},{"x":0.32,"y":0.86},{"x":0.4,"y":0.844},{"x":0.48,"y":0.828},{"x":0.55,"y":0.812},{"x":0.65,"y":0.796},{"x":0.74,"y":0.78},{"x":0.81,"y":0.772},{"x":0.9,"y":0.788},{"x":0.99,"y":0.812},{"x":1.07,"y":0.836},{"x":1.16,"y":0.892},{"x":1.23,"y":0.989},{"x":1.28,"y":1.085},{"x":1.35,"y":1.093},{"x":1.4,"y":1.077},{"x":1.46,"y":1.029},{"x":1.52,"y":1.005},{"x":1.59,"y":0.989},{"x":1.65,"y":0.973},{"x":1.72,"y":0.957},{"x":1.74,"y":0.924},{"x":1.81,"y":0.852},{"x":1.87,"y":0.756},{"x":1.91,"y":0.683},{"x":1.96,"y":0.619},{"x":2,"y":0.523},{"x":2.05,"y":0.434},{"x":2.1,"y":0.314},{"x":2.17,"y":0.233},{"x":2.23,"y":0.169},{"x":2.28,"y":0.129},{"x":2.35,"y":0.105},{"x":2.41,"y":0.08},{"x":2.49,"y":0.056},{"x":2.58,"y":0.04},{"x":2.71,"y":0.029},{"x":2.9,"y":0.019},{"x":3.16,"y":0.011},{"x":3.55,"y":0.006}
    ],
    "m33": [
      {"x":-3.91,"y":0.024},{"x":-3.42,"y":0.048},{"x":-3.03,"y":0.08},{"x":-2.71,"y":0.121},{"x":-2.45,"y":0.169},{"x":-2.26,"y":0.225},{"x":-2.13,"y":0.273},{"x":-2.03,"y":0.37},{"x":-1.94,"y":0.547},{"x":-1.85,"y":0.691},{"x":-1.74,"y":0.756},{"x":-1.61,"y":0.78},{"x":-1.48,"y":0.768},{"x":-1.38,"y":0.756},{"x":-1.29,"y":0.756},{"x":-1.2,"y":0.836},{"x":-1.12,"y":0.997},{"x":-1.07,"y":1.101},{"x":-1.01,"y":1.101},{"x":-0.94,"y":0.997},{"x":-0.86,"y":0.884},{"x":-0.71,"y":0.81},{"x":-0.52,"y":0.74},{"x":-0.26,"y":0.69},{"x":0,"y":0.672},{"x":0.26,"y":0.69},{"x":0.52,"y":0.74},{"x":0.71,"y":0.81},{"x":0.86,"y":0.884},{"x":0.94,"y":0.997},{"x":1.01,"y":1.101},{"x":1.07,"y":1.101},{"x":1.12,"y":0.997},{"x":1.2,"y":0.836},{"x":1.29,"y":0.756},{"x":1.38,"y":0.756},{"x":1.48,"y":0.768},{"x":1.61,"y":0.78},{"x":1.74,"y":0.756},{"x":1.85,"y":0.691},{"x":1.94,"y":0.547},{"x":2.03,"y":0.37},{"x":2.13,"y":0.273},{"x":2.26,"y":0.225},{"x":2.45,"y":0.169},{"x":2.71,"y":0.121},{"x":3.03,"y":0.08},{"x":3.42,"y":0.048},{"x":3.91,"y":0.024}
    ],
    "o14": [
      {"x":-3.76,"y":0.008},{"x":-3.12,"y":0.013},{"x":-2.74,"y":0.024},{"x":-2.55,"y":0.04},{"x":-2.42,"y":0.069},{"x":-2.29,"y":0.101},{"x":-2.2,"y":0.133},{"x":-2.13,"y":0.165},{"x":-2.08,"y":0.205},{"x":-2,"y":0.278},{"x":-1.95,"y":0.406},{"x":-1.9,"y":0.575},{"x":-1.85,"y":0.711},{"x":-1.78,"y":0.839},{"x":-1.72,"y":0.904},{"x":-1.66,"y":0.936},{"x":-1.59,"y":0.976},{"x":-1.53,"y":0.984},{"x":-1.46,"y":0.92},{"x":-1.4,"y":0.856},{"x":-1.34,"y":0.848},{"x":-1.24,"y":0.839},{"x":-1.15,"y":0.831},{"x":-1.06,"y":0.815},{"x":-0.96,"y":0.807},{"x":-0.87,"y":0.799},{"x":-0.8,"y":0.775},{"x":-0.73,"y":0.751},{"x":-0.64,"y":0.743},{"x":-0.55,"y":0.719},{"x":-0.47,"y":0.695},{"x":-0.38,"y":0.751},{"x":-0.32,"y":0.799},{"x":-0.25,"y":0.831},{"x":-0.19,"y":0.791},{"x":-0.13,"y":0.759},{"x":-0.06,"y":0.735},{"x":0.03,"y":0.743},{"x":0.13,"y":0.775},{"x":0.22,"y":0.783},{"x":0.29,"y":0.767},{"x":0.38,"y":0.743},{"x":0.47,"y":0.735},{"x":0.55,"y":0.727},{"x":0.64,"y":0.703},{"x":0.7,"y":0.679},{"x":0.76,"y":0.663},{"x":0.85,"y":0.671},{"x":0.96,"y":0.687},{"x":1.03,"y":0.727},{"x":1.08,"y":0.743},{"x":1.15,"y":0.823},{"x":1.21,"y":0.952},{"x":1.25,"y":1.024},{"x":1.31,"y":0.968},{"x":1.4,"y":0.944},{"x":1.49,"y":0.968},{"x":1.59,"y":0.976},{"x":1.69,"y":0.936},{"x":1.75,"y":0.839},{"x":1.78,"y":0.735},{"x":1.85,"y":0.615},{"x":1.91,"y":0.518},{"x":1.95,"y":0.43},{"x":2,"y":0.318},{"x":2.04,"y":0.238},{"x":2.1,"y":0.165},{"x":2.17,"y":0.133},{"x":2.23,"y":0.109},{"x":2.29,"y":0.085},{"x":2.38,"y":0.061},{"x":2.51,"y":0.04},{"x":2.68,"y":0.024},{"x":2.99,"y":0.013},{"x":3.5,"y":0.005}
    ],
    "m14": [
      {"x":-2.1,"y":0},{"x":-2,"y":0.149},{"x":-1.85,"y":0.374},{"x":-1.72,"y":0.438},{"x":-1.59,"y":0.502},{"x":-1.49,"y":0.679},{"x":-1.4,"y":0.856},{"x":-1.31,"y":0.968},{"x":-1.25,"y":1},{"x":-1.17,"y":0.936},{"x":-1.06,"y":0.791},{"x":-0.89,"y":0.679},{"x":-0.7,"y":0.599},{"x":-0.45,"y":0.535},{"x":-0.19,"y":0.499},{"x":0,"y":0.491},{"x":0.25,"y":0.502},{"x":0.51,"y":0.543},{"x":0.76,"y":0.615},{"x":0.96,"y":0.711},{"x":1.08,"y":0.839},{"x":1.18,"y":0.968},{"x":1.24,"y":1},{"x":1.31,"y":0.952},{"x":1.4,"y":0.791},{"x":1.49,"y":0.599},{"x":1.59,"y":0.454},{"x":1.72,"y":0.374},{"x":1.85,"y":0.181},{"x":1.97,"y":0}
    ],
    "o24": [
      {"x":-3.12,"y":0.005},{"x":-2.74,"y":0.013},{"x":-2.55,"y":0.029},{"x":-2.42,"y":0.053},{"x":-2.33,"y":0.077},{"x":-2.25,"y":0.125},{"x":-2.2,"y":0.165},{"x":-2.15,"y":0.197},{"x":-2.1,"y":0.285},{"x":-2.05,"y":0.413},{"x":-2,"y":0.549},{"x":-1.95,"y":0.805},{"x":-1.89,"y":1.029},{"x":-1.82,"y":1.085},{"x":-1.77,"y":1.013},{"x":-1.72,"y":0.925},{"x":-1.67,"y":0.826},{"x":-1.62,"y":0.746},{"x":-1.57,"y":0.701},{"x":-1.52,"y":0.677},{"x":-1.46,"y":0.669},{"x":-1.4,"y":0.701},{"x":-1.34,"y":0.749},{"x":-1.27,"y":0.781},{"x":-1.21,"y":0.789},{"x":-1.15,"y":0.765},{"x":-1.08,"y":0.733},{"x":-1.02,"y":0.693},{"x":-0.96,"y":0.645},{"x":-0.89,"y":0.605},{"x":-0.83,"y":0.565},{"x":-0.76,"y":0.549},{"x":-0.7,"y":0.605},{"x":-0.64,"y":0.637},{"x":-0.57,"y":0.64},{"x":-0.51,"y":0.581},{"x":-0.45,"y":0.546},{"x":-0.38,"y":0.613},{"x":-0.32,"y":0.637},{"x":-0.25,"y":0.677},{"x":-0.19,"y":0.669},{"x":-0.13,"y":0.653},{"x":-0.06,"y":0.64},{"x":0.03,"y":0.629},{"x":0.13,"y":0.621},{"x":0.22,"y":0.613},{"x":0.32,"y":0.597},{"x":0.42,"y":0.581},{"x":0.51,"y":0.573},{"x":0.6,"y":0.565},{"x":0.7,"y":0.549},{"x":0.76,"y":0.565},{"x":0.85,"y":0.589},{"x":0.96,"y":0.605},{"x":1.04,"y":0.613},{"x":1.15,"y":0.629},{"x":1.21,"y":0.685},{"x":1.27,"y":0.757},{"x":1.34,"y":0.813},{"x":1.38,"y":0.861},{"x":1.44,"y":0.826},{"x":1.53,"y":0.826},{"x":1.59,"y":0.821},{"x":1.66,"y":0.853},{"x":1.72,"y":0.909},{"x":1.78,"y":0.917},{"x":1.85,"y":0.885},{"x":1.91,"y":0.901},{"x":1.97,"y":0.749},{"x":2.04,"y":0.645},{"x":2.1,"y":0.501},{"x":2.17,"y":0.381},{"x":2.23,"y":0.301},{"x":2.27,"y":0.213},{"x":2.32,"y":0.157},{"x":2.38,"y":0.117},{"x":2.43,"y":0.085},{"x":2.51,"y":0.061},{"x":2.61,"y":0.042},{"x":2.76,"y":0.026},{"x":2.99,"y":0.016},{"x":3.38,"y":0.008}
    ],
    "m24": [
      {"x":-2.42,"y":0.008},{"x":-2.29,"y":0.029},{"x":-2.13,"y":0.093},{"x":-2.08,"y":0.205},{"x":-2.03,"y":0.349},{"x":-1.97,"y":0.525},{"x":-1.92,"y":0.733},{"x":-1.87,"y":0.925},{"x":-1.83,"y":0.997},{"x":-1.78,"y":0.965},{"x":-1.72,"y":0.845},{"x":-1.64,"y":0.733},{"x":-1.57,"y":0.685},{"x":-1.49,"y":0.677},{"x":-1.4,"y":0.717},{"x":-1.31,"y":0.757},{"x":-1.24,"y":0.733},{"x":-1.15,"y":0.685},{"x":-1.03,"y":0.637},{"x":-0.83,"y":0.581},{"x":-0.57,"y":0.525},{"x":-0.32,"y":0.496},{"x":0,"y":0.485},{"x":0.32,"y":0.496},{"x":0.55,"y":0.525},{"x":0.76,"y":0.573},{"x":0.96,"y":0.605},{"x":1.11,"y":0.653},{"x":1.21,"y":0.717},{"x":1.27,"y":0.757},{"x":1.34,"y":0.733},{"x":1.44,"y":0.677},{"x":1.53,"y":0.693},{"x":1.62,"y":0.765},{"x":1.72,"y":0.893},{"x":1.78,"y":0.973},{"x":1.85,"y":0.997},{"x":1.91,"y":0.925},{"x":1.97,"y":0.749},{"x":2.04,"y":0.525},{"x":2.1,"y":0.317},{"x":2.17,"y":0.141},{"x":2.23,"y":0.053},{"x":2.36,"y":0.013},{"x":2.48,"y":0}
    ],
    "o34": [
      {"x":-2.99,"y":0.003},{"x":-2.68,"y":0.013},{"x":-2.48,"y":0.029},{"x":-2.36,"y":0.048},{"x":-2.25,"y":0.072},{"x":-2.19,"y":0.096},{"x":-2.13,"y":0.129},{"x":-2.08,"y":0.185},{"x":-2.03,"y":0.257},{"x":-1.97,"y":0.33},{"x":-1.92,"y":0.498},{"x":-1.87,"y":0.683},{"x":-1.82,"y":0.804},{"x":-1.77,"y":0.876},{"x":-1.72,"y":0.884},{"x":-1.66,"y":0.876},{"x":-1.59,"y":0.868},{"x":-1.53,"y":0.86},{"x":-1.46,"y":0.852},{"x":-1.4,"y":0.868},{"x":-1.34,"y":0.876},{"x":-1.27,"y":0.9},{"x":-1.21,"y":0.908},{"x":-1.15,"y":0.892},{"x":-1.08,"y":0.871},{"x":-1.02,"y":0.852},{"x":-0.96,"y":0.836},{"x":-0.89,"y":0.823},{"x":-0.83,"y":0.82},{"x":-0.76,"y":0.833},{"x":-0.7,"y":0.852},{"x":-0.64,"y":0.844},{"x":-0.57,"y":0.828},{"x":-0.51,"y":0.788},{"x":-0.45,"y":0.764},{"x":-0.38,"y":0.812},{"x":-0.32,"y":0.844},{"x":-0.25,"y":0.892},{"x":-0.19,"y":0.897},{"x":-0.13,"y":0.876},{"x":-0.06,"y":0.852},{"x":0.03,"y":0.86},{"x":0.1,"y":0.876},{"x":0.19,"y":0.881},{"x":0.28,"y":0.865},{"x":0.36,"y":0.844},{"x":0.45,"y":0.828},{"x":0.52,"y":0.812},{"x":0.6,"y":0.796},{"x":0.68,"y":0.775},{"x":0.74,"y":0.764},{"x":0.83,"y":0.78},{"x":0.92,"y":0.804},{"x":0.99,"y":0.82},{"x":1.08,"y":0.844},{"x":1.15,"y":0.9},{"x":1.21,"y":0.997},{"x":1.27,"y":1.085},{"x":1.34,"y":1.077},{"x":1.4,"y":1.045},{"x":1.46,"y":1.021},{"x":1.53,"y":1.005},{"x":1.59,"y":0.989},{"x":1.66,"y":0.973},{"x":1.72,"y":0.924},{"x":1.78,"y":0.852},{"x":1.82,"y":0.756},{"x":1.87,"y":0.683},{"x":1.91,"y":0.611},{"x":1.95,"y":0.523},{"x":2,"y":0.434},{"x":2.05,"y":0.314},{"x":2.1,"y":0.225},{"x":2.17,"y":0.169},{"x":2.23,"y":0.129},{"x":2.29,"y":0.096},{"x":2.36,"y":0.072},{"x":2.46,"y":0.048},{"x":2.6,"y":0.029},{"x":2.8,"y":0.016},{"x":3.12,"y":0.008}
    ],
    "m34": [
      {"x":-3.86,"y":0.003},{"x":-3.38,"y":0.013},{"x":-2.87,"y":0.032},{"x":-2.48,"y":0.064},{"x":-2.29,"y":0.096},{"x":-2.17,"y":0.129},{"x":-2.08,"y":0.209},{"x":-2,"y":0.338},{"x":-1.94,"y":0.466},{"x":-1.85,"y":0.579},{"x":-1.75,"y":0.603},{"x":-1.59,"y":0.608},{"x":-1.53,"y":0.611},{"x":-1.44,"y":0.723},{"x":-1.36,"y":0.884},{"x":-1.3,"y":1.029},{"x":-1.24,"y":1.101},{"x":-1.17,"y":1.029},{"x":-1.08,"y":0.868},{"x":-0.96,"y":0.756},{"x":-0.76,"y":0.683},{"x":-0.51,"y":0.635},{"x":-0.25,"y":0.608},{"x":0,"y":0.598},{"x":0.25,"y":0.608},{"x":0.51,"y":0.635},{"x":0.76,"y":0.683},{"x":0.96,"y":0.756},{"x":1.08,"y":0.868},{"x":1.17,"y":1.029},{"x":1.24,"y":1.101},{"x":1.3,"y":1.029},{"x":1.36,"y":0.884},{"x":1.44,"y":0.723},{"x":1.53,"y":0.611},{"x":1.59,"y":0.608},{"x":1.75,"y":0.603},{"x":1.85,"y":0.579},{"x":1.94,"y":0.466},{"x":2,"y":0.338},{"x":2.08,"y":0.209},{"x":2.17,"y":0.129},{"x":2.29,"y":0.096},{"x":2.48,"y":0.064},{"x":2.87,"y":0.032},{"x":3.38,"y":0.013},{"x":3.86,"y":0.003}
    ]
  },
  "vconcat": [
    {
      "hconcat": [
        {
          "width": 511, "height": 181,
          "layer": [
            {"data": {"values": [{"y": 1.785}, {"y": 1.1}]}, "mark": {"type": "rule", "color": "#9a9a9a", "strokeWidth": 1.3, "strokeDash": [16, 11]},
             "encoding": {"y": {"field": "y", "type": "quantitative", "scale": {"domain": [0.075, 2.125], "nice": false, "zero": false}, "axis": null}}},
            {"data": {"name": "tlf"}, "mark": {"type": "point", "shape": "circle", "filled": true, "size": 85, "opacity": 1},
             "encoding": {
               "x": {"field": "x", "type": "quantitative", "scale": {"domain": [20, 35], "nice": false, "zero": false},
                     "axis": {"orient": "bottom", "values": [20,21,22,23,24,25,26,27,28,29,30,31,32,33,34,35], "tickSize": {"condition": {"test": "datum.value % 5 === 0", "value": -10}, "value": -6}, "labelExpr": "datum.value % 5 === 0 && datum.value < 35 ? '' + datum.value : ''", "labelPadding": 31.5, "title": "V\u00a0\u00a0\u00a0\u00a0\u00a0\u00a0\u00a0\u00a0\u00a0\u00a0\u00a0[km/s]", "titleFontSize": 30, "titleX": 255.5, "titleY": 82, "titleBaseline": "alphabetic", "titleAlign": "center"}},
               "y": {"field": "y", "type": "quantitative", "scale": {"domain": [0.075, 2.125], "nice": false, "zero": false},
                     "axis": {"orient": "left", "values": [0.2, 1.1, 2.0], "tickSize": -8, "format": ".1f", "labelPadding": 20, "title": "F", "titleX": -83, "titleY": 88, "titleAngle": 270, "titleBaseline": "alphabetic", "titleAlign": "center"}},
               "color": {"field": "s", "type": "nominal", "scale": {"domain": ["oo", "ots"], "range": ["#ff0000", "#00e600"]},
                         "legend": {"orient": "none", "legendX": 31, "legendY": 98, "title": null, "symbolType": "circle", "symbolSize": 110, "labelOffset": 12, "rowPadding": 9, "labelExpr": "datum.label === 'oo' ? '0.605 M⊙ (o.o.)' : '0.605 M⊙ (o.t.s.)'"}}
             }},
            {"data": {"name": "tlo"}, "mark": {"type": "point", "shape": "circle", "filled": false, "size": 85, "strokeWidth": 1.1, "opacity": 1},
             "encoding": {
               "x": {"field": "x", "type": "quantitative", "scale": {"domain": [20, 35], "nice": false, "zero": false},
                     "axis": {"orient": "top", "values": [20,21,22,23,24,25,26,27,28,29,30,31,32,33,34,35], "tickSize": {"condition": {"test": "datum.value % 5 === 0", "value": -10}, "value": -6}, "title": "peak sep.", "titleFontSize": 19, "titleX": 215.5, "titleY": 269, "titleBaseline": "alphabetic", "titleAlign": "center", "titleAngle": 0}},
               "y": {"field": "y", "type": "quantitative", "scale": {"domain": [0.075, 2.125], "nice": false, "zero": false},
                     "axis": {"orient": "right", "values": [0.2, 1.1, 2.0], "tickSize": -8, "title": "[NII]", "titleFontSize": 19, "titleAngle": 0, "titleX": -315.5, "titleY": 243, "titleBaseline": "alphabetic", "titleAlign": "center"}},
               "color": {"field": "s", "type": "nominal", "scale": {"domain": ["oo", "ots"], "range": ["#ff0000", "#00e600"]},
                         "legend": {"orient": "none", "legendX": 31, "legendY": 98, "title": null, "symbolType": "circle", "symbolSize": 110, "labelOffset": 12, "rowPadding": 9, "labelExpr": "datum.label === 'oo' ? '0.605 M⊙ (o.o.)' : '0.605 M⊙ (o.t.s.)'"}}
             }},
            {"data": {"values": [{"x": 31.83}, {"x": 33.85}]}, "mark": {"type": "point", "shape": "triangle-down", "filled": true, "color": "black", "size": 750, "opacity": 1},
             "encoding": {"x": {"field": "x", "type": "quantitative", "scale": {"domain": [20, 35], "nice": false, "zero": false}, "axis": null},
                          "y": {"datum": 2.37, "type": "quantitative", "scale": {"domain": [0.075, 2.125], "nice": false, "zero": false}, "axis": null}}},
            {"data": {"values": [{"x": 31.83}]}, "mark": {"type": "text", "text": "M1", "color": "#ff0000", "fontSize": 24, "baseline": "alphabetic"},
             "encoding": {"x": {"field": "x", "type": "quantitative", "scale": {"domain": [20, 35], "nice": false, "zero": false}, "axis": null},
                          "y": {"datum": 2.52, "type": "quantitative", "scale": {"domain": [0.075, 2.125], "nice": false, "zero": false}, "axis": null}}},
            {"data": {"values": [{"x": 33.85}]}, "mark": {"type": "text", "text": "M2", "color": "#00e600", "fontSize": 24, "baseline": "alphabetic"},
             "encoding": {"x": {"field": "x", "type": "quantitative", "scale": {"domain": [20, 35], "nice": false, "zero": false}, "axis": null},
                          "y": {"datum": 2.52, "type": "quantitative", "scale": {"domain": [0.075, 2.125], "nice": false, "zero": false}, "axis": null}}}
          ]
        },
        {
          "width": 469, "height": 181,
          "layer": [
            {"data": {"values": [{"y": 1.725}, {"y": 1.05}]}, "mark": {"type": "rule", "color": "#9a9a9a", "strokeWidth": 1.3, "strokeDash": [16, 11]},
             "encoding": {"y": {"field": "y", "type": "quantitative", "scale": {"domain": [0.931, 2.0625], "nice": false, "zero": false}, "axis": null}}},
            {"data": {"name": "tr"}, "mark": {"type": "point", "shape": "M0,-1L0,1M-1,0L1,0M-0.72,-0.72L0.72,0.72M-0.72,0.72L0.72,-0.72", "filled": false, "size": 150, "strokeWidth": 1.1, "opacity": 1},
             "encoding": {
               "x": {"field": "x", "type": "quantitative", "scale": {"domain": [20, 30], "nice": false, "zero": false},
                     "axis": {"orient": "bottom", "values": [20,20.5,21,21.5,22,22.5,23,23.5,24,24.5,25,25.5,26,26.5,27,27.5,28,28.5,29,29.5,30], "tickSize": {"condition": {"test": "datum.value % 2 === 0", "value": -10}, "value": -6}, "labelExpr": "datum.value % 2 === 0 ? '' + datum.value : ''", "labelPadding": 31.5, "title": "V\u00a0\u00a0\u00a0\u00a0\u00a0\u00a0\u00a0\u00a0\u00a0\u00a0\u00a0[km/s]", "titleFontSize": 30, "titleX": 234.5, "titleY": 82, "titleBaseline": "alphabetic", "titleAlign": "center"}},
               "y": {"field": "y", "type": "quantitative", "scale": {"domain": [0.931, 2.0625], "nice": false, "zero": false},
                     "axis": {"orient": "left", "values": [1,1.125,1.25,1.375,1.5,1.625,1.75,1.875,2], "tickSize": {"condition": {"test": "datum.value % 0.5 === 0", "value": -10}, "value": -5}, "labels": false, "title": "[NII]", "titleFontSize": 19, "titleAngle": 0, "titleX": 174, "titleY": 243, "titleBaseline": "alphabetic", "titleAlign": "center"}},
               "color": {"datum": "0.625 M⊙", "type": "nominal", "scale": {"range": ["#0000e6"]},
                         "legend": {"orient": "none", "legendX": 273, "legendY": 19, "title": null, "symbolType": "M0,-1L0,1M-1,0L1,0M-0.72,-0.72L0.72,0.72M-0.72,0.72L0.72,-0.72", "symbolSize": 160, "symbolStrokeWidth": 1.1, "labelOffset": 10}}
             }},
            {"data": {"values": [{"x": 23.63}]}, "mark": {"type": "point", "shape": "triangle-down", "filled": true, "color": "black", "size": 750, "angle": -40, "opacity": 1},
             "encoding": {
               "x": {"field": "x", "type": "quantitative", "scale": {"domain": [20, 30], "nice": false, "zero": false},
                     "axis": {"orient": "top", "values": [20,20.5,21,21.5,22,22.5,23,23.5,24,24.5,25,25.5,26,26.5,27,27.5,28,28.5,29,29.5,30], "tickSize": {"condition": {"test": "datum.value % 2 === 0", "value": -10}, "value": -6}, "title": "peak sep.", "titleFontSize": 19, "titleX": 195, "titleY": 269, "titleBaseline": "alphabetic", "titleAlign": "center", "titleAngle": 0}},
               "y": {"datum": 2.21, "type": "quantitative", "scale": {"domain": [0.931, 2.0625], "nice": false, "zero": false},
                     "axis": {"orient": "right", "values": [1,1.125,1.25,1.375,1.5,1.625,1.75,1.875,2], "tickSize": {"condition": {"test": "datum.value % 0.5 === 0", "value": -10}, "value": -5}, "labels": true, "labelExpr": "datum.value % 0.5 === 0 ? format(datum.value, '.1f') : ''", "labelPadding": 21, "title": "F*", "titleAngle": 270, "titleX": 80, "titleY": 91, "titleBaseline": "alphabetic", "titleAlign": "center"}}
             }},
            {"data": {"values": [{"x": 24.41}]}, "mark": {"type": "point", "shape": "triangle-down", "filled": true, "color": "black", "size": 750, "angle": 40, "opacity": 1},
             "encoding": {"x": {"field": "x", "type": "quantitative", "scale": {"domain": [20, 30], "nice": false, "zero": false}, "axis": null},
                          "y": {"datum": 2.21, "type": "quantitative", "scale": {"domain": [0.931, 2.0625], "nice": false, "zero": false}, "axis": null}}},
            {"data": {"values": [{"x": 23.06, "t": "M3"}, {"x": 24.98, "t": "M4"}]}, "mark": {"type": "text", "fontSize": 24, "baseline": "alphabetic", "color": "#0000e6"},
             "encoding": {"x": {"field": "x", "type": "quantitative", "scale": {"domain": [20, 30], "nice": false, "zero": false}, "axis": null},
                          "y": {"datum": 2.29, "type": "quantitative", "scale": {"domain": [0.931, 2.0625], "nice": false, "zero": false}, "axis": null},
                          "text": {"field": "t"}}}
          ]
        }
      ],
      "spacing": 19,
      "bounds": "flush",
      "resolve": {"scale": {"color": "independent", "fill": "independent", "stroke": "independent"}}
    },
    {"width": 1, "height": 336, "view": {"stroke": null}, "data": {"values": [{}]}, "mark": {"type": "point", "opacity": 0}},
    {
      "hconcat": [
        {
          "width": 252.5, "height": 249, "title": {"text": "NGC 3132"},
          "layer": [
            {"data": {"name": "o11"}, "mark": {"type": "line", "color": "black", "strokeWidth": 4},
             "encoding": {
               "x": {"field": "x", "type": "quantitative", "scale": {"domain": [-38.75, 38.75], "nice": false, "zero": false},
                     "axis": {"orient": "bottom", "values": [-35,-30,-25,-20,-15,-10,-5,0,5,10,15,20,25,30,35], "tickSize": {"condition": {"test": "datum.value % 20 === 0", "value": -11}, "value": -5}, "labels": false, "title": null}},
               "y": {"field": "y", "type": "quantitative", "scale": {"domain": [-0.01, 1.195], "nice": false, "zero": false},
                     "axis": {"orient": "left", "values": [0,0.2,0.4,0.6,0.8,1], "format": ".1f", "title": "norm. SB", "titleX": -82, "titleY": 146, "titleAngle": 270, "titleBaseline": "alphabetic", "titleAlign": "center"}}
             }},
            {"data": {"name": "o11"}, "mark": {"type": "point", "shape": "circle", "filled": false, "color": "black", "size": 22, "strokeWidth": 1, "opacity": 1},
             "encoding": {"x": {"field": "x", "type": "quantitative", "scale": {"domain": [-38.75, 38.75], "nice": false, "zero": false}, "axis": null},
                          "y": {"field": "y", "type": "quantitative", "scale": {"domain": [-0.01, 1.195], "nice": false, "zero": false}, "axis": null}}},
            {"data": {"name": "s11"}, "mark": {"type": "point", "shape": "circle", "filled": false, "color": "black", "size": 22, "strokeWidth": 1, "opacity": 1},
             "encoding": {"x": {"field": "x", "type": "quantitative", "scale": {"domain": [-38.75, 38.75], "nice": false, "zero": false}, "axis": null},
                          "y": {"field": "y", "type": "quantitative", "scale": {"domain": [-0.01, 1.195], "nice": false, "zero": false}, "axis": null}}},
            {"data": {"name": "m11"}, "mark": {"type": "line", "color": "#ff0000", "strokeWidth": 2},
             "encoding": {
               "x": {"field": "x", "type": "quantitative", "scale": {"domain": [-38.75, 38.75], "nice": false, "zero": false},
                     "axis": {"orient": "top", "values": [-35,-30,-25,-20,-15,-10,-5,0,5,10,15,20,25,30,35], "tickSize": {"condition": {"test": "datum.value % 20 === 0", "value": -11}, "value": -5}, "title": null}},
               "y": {"field": "y", "type": "quantitative", "scale": {"domain": [-0.01, 1.195], "nice": false, "zero": false},
                     "axis": {"orient": "right", "values": [0,0.2,0.4,0.6,0.8,1], "title": "[OIII]", "titleFontSize": 18, "titleX": -326.5, "titleY": 48, "titleAngle": 270, "titleBaseline": "alphabetic", "titleAlign": "center"}}
             }},
            {"data": {"values": [{}]}, "mark": {"type": "text", "text": "M1", "color": "#ff0000", "fontSize": 22, "align": "left", "baseline": "alphabetic"},
             "encoding": {"x": {"datum": -36.3, "type": "quantitative", "scale": {"domain": [-38.75, 38.75], "nice": false, "zero": false}, "axis": null},
                          "y": {"datum": 1.05, "type": "quantitative", "scale": {"domain": [-0.01, 1.195], "nice": false, "zero": false}, "axis": null}}}
          ]
        },
        {
          "width": 240, "height": 249, "title": {"text": "NGC 6565"},
          "layer": [
            {"data": {"name": "o12"}, "mark": {"type": "point", "shape": "circle", "filled": false, "color": "black", "size": 32, "strokeWidth": 1, "opacity": 1},
             "encoding": {
               "x": {"field": "x", "type": "quantitative", "scale": {"domain": [-9, 9], "nice": false, "zero": false},
                     "axis": {"orient": "bottom", "values": [-9,-8,-7,-6,-5,-4,-3,-2,-1,0,1,2,3,4,5,6,7,8,9], "tickSize": {"condition": {"test": "datum.value % 5 === 0", "value": -11}, "value": -5}, "labels": false, "title": null}},
               "y": {"field": "y", "type": "quantitative", "scale": {"domain": [-0.01, 1.195], "nice": false, "zero": false},
                     "axis": {"orient": "left", "values": [0,0.2,0.4,0.6,0.8,1], "labels": false, "title": null}}
             }},
            {"data": {"name": "m12"}, "mark": {"type": "line", "color": "#00e600", "strokeWidth": 2},
             "encoding": {
               "x": {"field": "x", "type": "quantitative", "scale": {"domain": [-9, 9], "nice": false, "zero": false},
                     "axis": {"orient": "top", "values": [-9,-8,-7,-6,-5,-4,-3,-2,-1,0,1,2,3,4,5,6,7,8,9], "tickSize": {"condition": {"test": "datum.value % 5 === 0", "value": -11}, "value": -5}, "title": null}},
               "y": {"field": "y", "type": "quantitative", "scale": {"domain": [-0.01, 1.195], "nice": false, "zero": false},
                     "axis": {"orient": "right", "values": [0,0.2,0.4,0.6,0.8,1], "title": null}}
             }},
            {"data": {"values": [{}]}, "mark": {"type": "text", "text": "M2", "color": "#00e600", "fontSize": 22, "align": "left", "baseline": "alphabetic"},
             "encoding": {"x": {"datum": -8.4, "type": "quantitative", "scale": {"domain": [-9, 9], "nice": false, "zero": false}, "axis": null},
                          "y": {"datum": 1.05, "type": "quantitative", "scale": {"domain": [-0.01, 1.195], "nice": false, "zero": false}, "axis": null}}}
          ]
        },
        {
          "width": 224, "height": 249, "title": {"text": "NGC 6886"},
          "layer": [
            {"data": {"name": "o13"}, "mark": {"type": "point", "shape": "circle", "filled": false, "color": "black", "size": 32, "strokeWidth": 1, "opacity": 1},
             "encoding": {
               "x": {"field": "x", "type": "quantitative", "scale": {"domain": [-3.9, 3.9], "nice": false, "zero": false},
                     "axis": {"orient": "bottom", "values": [-3.5,-3,-2.5,-2,-1.5,-1,-0.5,0,0.5,1,1.5,2,2.5,3,3.5], "tickSize": {"condition": {"test": "datum.value % 2 === 0", "value": -11}, "value": -5}, "labels": false, "title": null}},
               "y": {"field": "y", "type": "quantitative", "scale": {"domain": [-0.01, 1.195], "nice": false, "zero": false},
                     "axis": {"orient": "left", "values": [0,0.2,0.4,0.6,0.8,1], "labels": false, "title": null}}
             }},
            {"data": {"name": "m13"}, "mark": {"type": "line", "color": "#0000e6", "strokeWidth": 2},
             "encoding": {
               "x": {"field": "x", "type": "quantitative", "scale": {"domain": [-3.9, 3.9], "nice": false, "zero": false},
                     "axis": {"orient": "top", "values": [-3.5,-3,-2.5,-2,-1.5,-1,-0.5,0,0.5,1,1.5,2,2.5,3,3.5], "tickSize": {"condition": {"test": "datum.value % 2 === 0", "value": -11}, "value": -5}, "title": null}},
               "y": {"field": "y", "type": "quantitative", "scale": {"domain": [-0.01, 1.195], "nice": false, "zero": false},
                     "axis": {"orient": "right", "values": [0,0.2,0.4,0.6,0.8,1], "title": null}}
             }},
            {"data": {"values": [{}]}, "mark": {"type": "text", "text": "M3", "color": "#0000e6", "fontSize": 22, "align": "left", "baseline": "alphabetic"},
             "encoding": {"x": {"datum": -3.62, "type": "quantitative", "scale": {"domain": [-3.9, 3.9], "nice": false, "zero": false}, "axis": null},
                          "y": {"datum": 1.05, "type": "quantitative", "scale": {"domain": [-0.01, 1.195], "nice": false, "zero": false}, "axis": null}}}
          ]
        },
        {
          "width": 226, "height": 249, "title": {"text": "NGC 6886"},
          "layer": [
            {"data": {"name": "o14"}, "mark": {"type": "point", "shape": "circle", "filled": false, "color": "black", "size": 32, "strokeWidth": 1, "opacity": 1},
             "encoding": {
               "x": {"field": "x", "type": "quantitative", "scale": {"domain": [-3.9, 3.9], "nice": false, "zero": false},
                     "axis": {"orient": "bottom", "values": [-3.5,-3,-2.5,-2,-1.5,-1,-0.5,0,0.5,1,1.5,2,2.5,3,3.5], "tickSize": {"condition": {"test": "datum.value % 2 === 0", "value": -11}, "value": -5}, "labels": false, "title": null}},
               "y": {"field": "y", "type": "quantitative", "scale": {"domain": [-0.01, 1.195], "nice": false, "zero": false},
                     "axis": {"orient": "left", "values": [0,0.2,0.4,0.6,0.8,1], "labels": false, "title": null}}
             }},
            {"data": {"name": "m14"}, "mark": {"type": "line", "color": "#0000e6", "strokeWidth": 2},
             "encoding": {
               "x": {"field": "x", "type": "quantitative", "scale": {"domain": [-3.9, 3.9], "nice": false, "zero": false},
                     "axis": {"orient": "top", "values": [-3.5,-3,-2.5,-2,-1.5,-1,-0.5,0,0.5,1,1.5,2,2.5,3,3.5], "tickSize": {"condition": {"test": "datum.value % 2 === 0", "value": -11}, "value": -5}, "title": null}},
               "y": {"field": "y", "type": "quantitative", "scale": {"domain": [-0.01, 1.195], "nice": false, "zero": false},
                     "axis": {"orient": "right", "values": [0,0.2,0.4,0.6,0.8,1], "title": null}}
             }},
            {"data": {"values": [{}]}, "mark": {"type": "text", "text": "M4", "color": "#0000e6", "fontSize": 22, "align": "left", "baseline": "alphabetic"},
             "encoding": {"x": {"datum": -3.62, "type": "quantitative", "scale": {"domain": [-3.9, 3.9], "nice": false, "zero": false}, "axis": null},
                          "y": {"datum": 1.05, "type": "quantitative", "scale": {"domain": [-0.01, 1.195], "nice": false, "zero": false}, "axis": null}}}
          ]
        }
      ],
      "spacing": 19,
      "bounds": "flush"
    },
    {"width": 1, "height": 249, "view": {"stroke": null}, "data": {"values": [{}]}, "mark": {"type": "point", "opacity": 0}},
    {
      "hconcat": [
        {
          "width": 252.5, "height": 248,
          "layer": [
            {"data": {"name": "o21"}, "mark": {"type": "line", "color": "black", "strokeWidth": 3.5},
             "encoding": {
               "x": {"field": "x", "type": "quantitative", "scale": {"domain": [-38.75, 38.75], "nice": false, "zero": false},
                     "axis": {"orient": "bottom", "values": [-35,-30,-25,-20,-15,-10,-5,0,5,10,15,20,25,30,35], "tickSize": {"condition": {"test": "datum.value % 20 === 0", "value": -11}, "value": -5}, "labels": false, "title": null}},
               "y": {"field": "y", "type": "quantitative", "scale": {"domain": [-0.01, 1.195], "nice": false, "zero": false},
                     "axis": {"orient": "left", "values": [0,0.2,0.4,0.6,0.8,1], "format": ".1f", "title": "norm. SB", "titleX": -82, "titleY": 142, "titleAngle": 270, "titleBaseline": "alphabetic", "titleAlign": "center"}}
             }},
            {"data": {"name": "o21"}, "mark": {"type": "point", "shape": "circle", "filled": true, "color": "black", "size": 16, "opacity": 1},
             "encoding": {"x": {"field": "x", "type": "quantitative", "scale": {"domain": [-38.75, 38.75], "nice": false, "zero": false}, "axis": null},
                          "y": {"field": "y", "type": "quantitative", "scale": {"domain": [-0.01, 1.195], "nice": false, "zero": false}, "axis": null}}},
            {"data": {"name": "s21"}, "mark": {"type": "point", "shape": "circle", "filled": true, "color": "black", "size": 16, "opacity": 1},
             "encoding": {"x": {"field": "x", "type": "quantitative", "scale": {"domain": [-38.75, 38.75], "nice": false, "zero": false}, "axis": null},
                          "y": {"field": "y", "type": "quantitative", "scale": {"domain": [-0.01, 1.195], "nice": false, "zero": false}, "axis": null}}},
            {"data": {"name": "m21"}, "mark": {"type": "line", "color": "#ff0000", "strokeWidth": 2},
             "encoding": {
               "x": {"field": "x", "type": "quantitative", "scale": {"domain": [-38.75, 38.75], "nice": false, "zero": false},
                     "axis": {"orient": "top", "values": [-35,-30,-25,-20,-15,-10,-5,0,5,10,15,20,25,30,35], "tickSize": {"condition": {"test": "datum.value % 20 === 0", "value": -11}, "value": -5}, "title": null}},
               "y": {"field": "y", "type": "quantitative", "scale": {"domain": [-0.01, 1.195], "nice": false, "zero": false},
                     "axis": {"orient": "right", "values": [0,0.2,0.4,0.6,0.8,1], "title": "[NII]", "titleFontSize": 18, "titleX": -326.5, "titleY": 48, "titleAngle": 270, "titleBaseline": "alphabetic", "titleAlign": "center"}}
             }}
          ]
        },
        {
          "width": 240, "height": 248,
          "layer": [
            {"data": {"name": "o22"}, "mark": {"type": "point", "shape": "circle", "filled": false, "color": "black", "size": 32, "strokeWidth": 1, "opacity": 1},
             "encoding": {
               "x": {"field": "x", "type": "quantitative", "scale": {"domain": [-9, 9], "nice": false, "zero": false},
                     "axis": {"orient": "bottom", "values": [-9,-8,-7,-6,-5,-4,-3,-2,-1,0,1,2,3,4,5,6,7,8,9], "tickSize": {"condition": {"test": "datum.value % 5 === 0", "value": -11}, "value": -5}, "labels": false, "title": null}},
               "y": {"field": "y", "type": "quantitative", "scale": {"domain": [-0.01, 1.195], "nice": false, "zero": false},
                     "axis": {"orient": "left", "values": [0,0.2,0.4,0.6,0.8,1], "labels": false, "title": null}}
             }},
            {"data": {"name": "m22"}, "mark": {"type": "line", "color": "#00e600", "strokeWidth": 2},
             "encoding": {
               "x": {"field": "x", "type": "quantitative", "scale": {"domain": [-9, 9], "nice": false, "zero": false},
                     "axis": {"orient": "top", "values": [-9,-8,-7,-6,-5,-4,-3,-2,-1,0,1,2,3,4,5,6,7,8,9], "tickSize": {"condition": {"test": "datum.value % 5 === 0", "value": -11}, "value": -5}, "title": null}},
               "y": {"field": "y", "type": "quantitative", "scale": {"domain": [-0.01, 1.195], "nice": false, "zero": false},
                     "axis": {"orient": "right", "values": [0,0.2,0.4,0.6,0.8,1], "title": null}}
             }}
          ]
        },
        {
          "width": 224, "height": 248,
          "layer": [
            {"data": {"name": "o23"}, "mark": {"type": "point", "shape": "circle", "filled": false, "color": "black", "size": 32, "strokeWidth": 1, "opacity": 1},
             "encoding": {
               "x": {"field": "x", "type": "quantitative", "scale": {"domain": [-3.9, 3.9], "nice": false, "zero": false},
                     "axis": {"orient": "bottom", "values": [-3.5,-3,-2.5,-2,-1.5,-1,-0.5,0,0.5,1,1.5,2,2.5,3,3.5], "tickSize": {"condition": {"test": "datum.value % 2 === 0", "value": -11}, "value": -5}, "labels": false, "title": null}},
               "y": {"field": "y", "type": "quantitative", "scale": {"domain": [-0.01, 1.195], "nice": false, "zero": false},
                     "axis": {"orient": "left", "values": [0,0.2,0.4,0.6,0.8,1], "labels": false, "title": null}}
             }},
            {"data": {"name": "m23"}, "mark": {"type": "line", "color": "#0000e6", "strokeWidth": 2},
             "encoding": {
               "x": {"field": "x", "type": "quantitative", "scale": {"domain": [-3.9, 3.9], "nice": false, "zero": false},
                     "axis": {"orient": "top", "values": [-3.5,-3,-2.5,-2,-1.5,-1,-0.5,0,0.5,1,1.5,2,2.5,3,3.5], "tickSize": {"condition": {"test": "datum.value % 2 === 0", "value": -11}, "value": -5}, "title": null}},
               "y": {"field": "y", "type": "quantitative", "scale": {"domain": [-0.01, 1.195], "nice": false, "zero": false},
                     "axis": {"orient": "right", "values": [0,0.2,0.4,0.6,0.8,1], "title": null}}
             }},
            {"data": {"name": "d23"}, "mark": {"type": "line", "color": "#0000e6", "strokeWidth": 2, "strokeDash": [12, 9]},
             "encoding": {"x": {"field": "x", "type": "quantitative", "scale": {"domain": [-3.9, 3.9], "nice": false, "zero": false}, "axis": null},
                          "y": {"field": "y", "type": "quantitative", "scale": {"domain": [-0.01, 1.195], "nice": false, "zero": false}, "axis": null},
                          "detail": {"field": "g"}}}
          ]
        },
        {
          "width": 226, "height": 248,
          "layer": [
            {"data": {"name": "o24"}, "mark": {"type": "point", "shape": "circle", "filled": false, "color": "black", "size": 32, "strokeWidth": 1, "opacity": 1},
             "encoding": {
               "x": {"field": "x", "type": "quantitative", "scale": {"domain": [-3.9, 3.9], "nice": false, "zero": false},
                     "axis": {"orient": "bottom", "values": [-3.5,-3,-2.5,-2,-1.5,-1,-0.5,0,0.5,1,1.5,2,2.5,3,3.5], "tickSize": {"condition": {"test": "datum.value % 2 === 0", "value": -11}, "value": -5}, "labels": false, "title": null}},
               "y": {"field": "y", "type": "quantitative", "scale": {"domain": [-0.01, 1.195], "nice": false, "zero": false},
                     "axis": {"orient": "left", "values": [0,0.2,0.4,0.6,0.8,1], "labels": false, "title": null}}
             }},
            {"data": {"name": "m24"}, "mark": {"type": "line", "color": "#0000e6", "strokeWidth": 2},
             "encoding": {
               "x": {"field": "x", "type": "quantitative", "scale": {"domain": [-3.9, 3.9], "nice": false, "zero": false},
                     "axis": {"orient": "top", "values": [-3.5,-3,-2.5,-2,-1.5,-1,-0.5,0,0.5,1,1.5,2,2.5,3,3.5], "tickSize": {"condition": {"test": "datum.value % 2 === 0", "value": -11}, "value": -5}, "title": null}},
               "y": {"field": "y", "type": "quantitative", "scale": {"domain": [-0.01, 1.195], "nice": false, "zero": false},
                     "axis": {"orient": "right", "values": [0,0.2,0.4,0.6,0.8,1], "title": null}}
             }}
          ]
        }
      ],
      "spacing": 19,
      "bounds": "flush"
    },
    {"width": 1, "height": 248, "view": {"stroke": null}, "data": {"values": [{}]}, "mark": {"type": "point", "opacity": 0}},
    {
      "hconcat": [
        {
          "width": 252.5, "height": 247,
          "layer": [
            {"data": {"name": "o31"}, "mark": {"type": "line", "color": "black", "strokeWidth": 3.5},
             "encoding": {
               "x": {"field": "x", "type": "quantitative", "scale": {"domain": [-38.75, 38.75], "nice": false, "zero": false},
                     "axis": {"orient": "bottom", "values": [-35,-30,-25,-20,-15,-10,-5,0,5,10,15,20,25,30,35], "tickSize": {"condition": {"test": "datum.value % 20 === 0", "value": -11}, "value": -5}, "labelExpr": "datum.value % 20 === 0 ? '' + datum.value : ''", "title": "θ [\"]", "titleFontSize": 30, "titleX": 118, "titleY": 78, "titleBaseline": "alphabetic"}},
               "y": {"field": "y", "type": "quantitative", "scale": {"domain": [-0.01, 1.195], "nice": false, "zero": false},
                     "axis": {"orient": "left", "values": [0,0.2,0.4,0.6,0.8,1], "format": ".1f", "title": "norm. SB", "titleX": -82, "titleY": 138, "titleAngle": 270, "titleBaseline": "alphabetic", "titleAlign": "center"}}
             }},
            {"data": {"name": "o31"}, "mark": {"type": "point", "shape": "circle", "filled": true, "color": "black", "size": 16, "opacity": 1},
             "encoding": {"x": {"field": "x", "type": "quantitative", "scale": {"domain": [-38.75, 38.75], "nice": false, "zero": false}, "axis": null},
                          "y": {"field": "y", "type": "quantitative", "scale": {"domain": [-0.01, 1.195], "nice": false, "zero": false}, "axis": null}}},
            {"data": {"name": "s31"}, "mark": {"type": "point", "shape": "circle", "filled": true, "color": "black", "size": 16, "opacity": 1},
             "encoding": {"x": {"field": "x", "type": "quantitative", "scale": {"domain": [-38.75, 38.75], "nice": false, "zero": false}, "axis": null},
                          "y": {"field": "y", "type": "quantitative", "scale": {"domain": [-0.01, 1.195], "nice": false, "zero": false}, "axis": null}}},
            {"data": {"name": "m31"}, "mark": {"type": "line", "color": "#ff0000", "strokeWidth": 2},
             "encoding": {
               "x": {"field": "x", "type": "quantitative", "scale": {"domain": [-38.75, 38.75], "nice": false, "zero": false},
                     "axis": {"orient": "top", "values": [-35,-30,-25,-20,-15,-10,-5,0,5,10,15,20,25,30,35], "tickSize": {"condition": {"test": "datum.value % 20 === 0", "value": -11}, "value": -5}, "title": null}},
               "y": {"field": "y", "type": "quantitative", "scale": {"domain": [-0.01, 1.195], "nice": false, "zero": false},
                     "axis": {"orient": "right", "values": [0,0.2,0.4,0.6,0.8,1], "title": "Hα", "titleFontSize": 18, "titleX": -326.5, "titleY": 48, "titleAngle": 270, "titleBaseline": "alphabetic", "titleAlign": "center"}}
             }}
          ]
        },
        {
          "width": 240, "height": 247,
          "layer": [
            {"data": {"name": "o32"}, "mark": {"type": "point", "shape": "circle", "filled": false, "color": "black", "size": 32, "strokeWidth": 1, "opacity": 1},
             "encoding": {
               "x": {"field": "x", "type": "quantitative", "scale": {"domain": [-9, 9], "nice": false, "zero": false},
                     "axis": {"orient": "bottom", "values": [-9,-8,-7,-6,-5,-4,-3,-2,-1,0,1,2,3,4,5,6,7,8,9], "tickSize": {"condition": {"test": "datum.value % 5 === 0", "value": -11}, "value": -5}, "labelExpr": "datum.value % 5 === 0 ? '' + datum.value : ''", "title": "θ [\"]", "titleFontSize": 30, "titleX": 112, "titleY": 78, "titleBaseline": "alphabetic"}},
               "y": {"field": "y", "type": "quantitative", "scale": {"domain": [-0.01, 1.195], "nice": false, "zero": false},
                     "axis": {"orient": "left", "values": [0,0.2,0.4,0.6,0.8,1], "labels": false, "title": null}}
             }},
            {"data": {"name": "m32"}, "mark": {"type": "line", "color": "#00e600", "strokeWidth": 2},
             "encoding": {
               "x": {"field": "x", "type": "quantitative", "scale": {"domain": [-9, 9], "nice": false, "zero": false},
                     "axis": {"orient": "top", "values": [-9,-8,-7,-6,-5,-4,-3,-2,-1,0,1,2,3,4,5,6,7,8,9], "tickSize": {"condition": {"test": "datum.value % 5 === 0", "value": -11}, "value": -5}, "title": null}},
               "y": {"field": "y", "type": "quantitative", "scale": {"domain": [-0.01, 1.195], "nice": false, "zero": false},
                     "axis": {"orient": "right", "values": [0,0.2,0.4,0.6,0.8,1], "title": null}}
             }}
          ]
        },
        {
          "width": 224, "height": 247,
          "layer": [
            {"data": {"name": "o33"}, "mark": {"type": "point", "shape": "circle", "filled": false, "color": "black", "size": 32, "strokeWidth": 1, "opacity": 1},
             "encoding": {
               "x": {"field": "x", "type": "quantitative", "scale": {"domain": [-3.9, 3.9], "nice": false, "zero": false},
                     "axis": {"orient": "bottom", "values": [-3.5,-3,-2.5,-2,-1.5,-1,-0.5,0,0.5,1,1.5,2,2.5,3,3.5], "tickSize": {"condition": {"test": "datum.value % 2 === 0", "value": -11}, "value": -5}, "labelExpr": "datum.value % 2 === 0 ? '' + datum.value : ''", "title": "θ [\"]", "titleFontSize": 30, "titleX": 104, "titleY": 78, "titleBaseline": "alphabetic"}},
               "y": {"field": "y", "type": "quantitative", "scale": {"domain": [-0.01, 1.195], "nice": false, "zero": false},
                     "axis": {"orient": "left", "values": [0,0.2,0.4,0.6,0.8,1], "labels": false, "title": null}}
             }},
            {"data": {"name": "m33"}, "mark": {"type": "line", "color": "#0000e6", "strokeWidth": 2},
             "encoding": {
               "x": {"field": "x", "type": "quantitative", "scale": {"domain": [-3.9, 3.9], "nice": false, "zero": false},
                     "axis": {"orient": "top", "values": [-3.5,-3,-2.5,-2,-1.5,-1,-0.5,0,0.5,1,1.5,2,2.5,3,3.5], "tickSize": {"condition": {"test": "datum.value % 2 === 0", "value": -11}, "value": -5}, "title": null}},
               "y": {"field": "y", "type": "quantitative", "scale": {"domain": [-0.01, 1.195], "nice": false, "zero": false},
                     "axis": {"orient": "right", "values": [0,0.2,0.4,0.6,0.8,1], "title": null}}
             }}
          ]
        },
        {
          "width": 226, "height": 247,
          "layer": [
            {"data": {"name": "o34"}, "mark": {"type": "point", "shape": "circle", "filled": false, "color": "black", "size": 32, "strokeWidth": 1, "opacity": 1},
             "encoding": {
               "x": {"field": "x", "type": "quantitative", "scale": {"domain": [-3.9, 3.9], "nice": false, "zero": false},
                     "axis": {"orient": "bottom", "values": [-3.5,-3,-2.5,-2,-1.5,-1,-0.5,0,0.5,1,1.5,2,2.5,3,3.5], "tickSize": {"condition": {"test": "datum.value % 2 === 0", "value": -11}, "value": -5}, "labelExpr": "datum.value % 2 === 0 ? '' + datum.value : ''", "title": "θ [\"]", "titleFontSize": 30, "titleX": 105, "titleY": 78, "titleBaseline": "alphabetic"}},
               "y": {"field": "y", "type": "quantitative", "scale": {"domain": [-0.01, 1.195], "nice": false, "zero": false},
                     "axis": {"orient": "left", "values": [0,0.2,0.4,0.6,0.8,1], "labels": false, "title": null}}
             }},
            {"data": {"name": "m34"}, "mark": {"type": "line", "color": "#0000e6", "strokeWidth": 2},
             "encoding": {
               "x": {"field": "x", "type": "quantitative", "scale": {"domain": [-3.9, 3.9], "nice": false, "zero": false},
                     "axis": {"orient": "top", "values": [-3.5,-3,-2.5,-2,-1.5,-1,-0.5,0,0.5,1,1.5,2,2.5,3,3.5], "tickSize": {"condition": {"test": "datum.value % 2 === 0", "value": -11}, "value": -5}, "title": null}},
               "y": {"field": "y", "type": "quantitative", "scale": {"domain": [-0.01, 1.195], "nice": false, "zero": false},
                     "axis": {"orient": "right", "values": [0,0.2,0.4,0.6,0.8,1], "title": null}}
             }}
          ]
        }
      ],
      "spacing": 19,
      "bounds": "flush"
    }
  ],
  "spacing": 0,
  "bounds": "flush"
}
